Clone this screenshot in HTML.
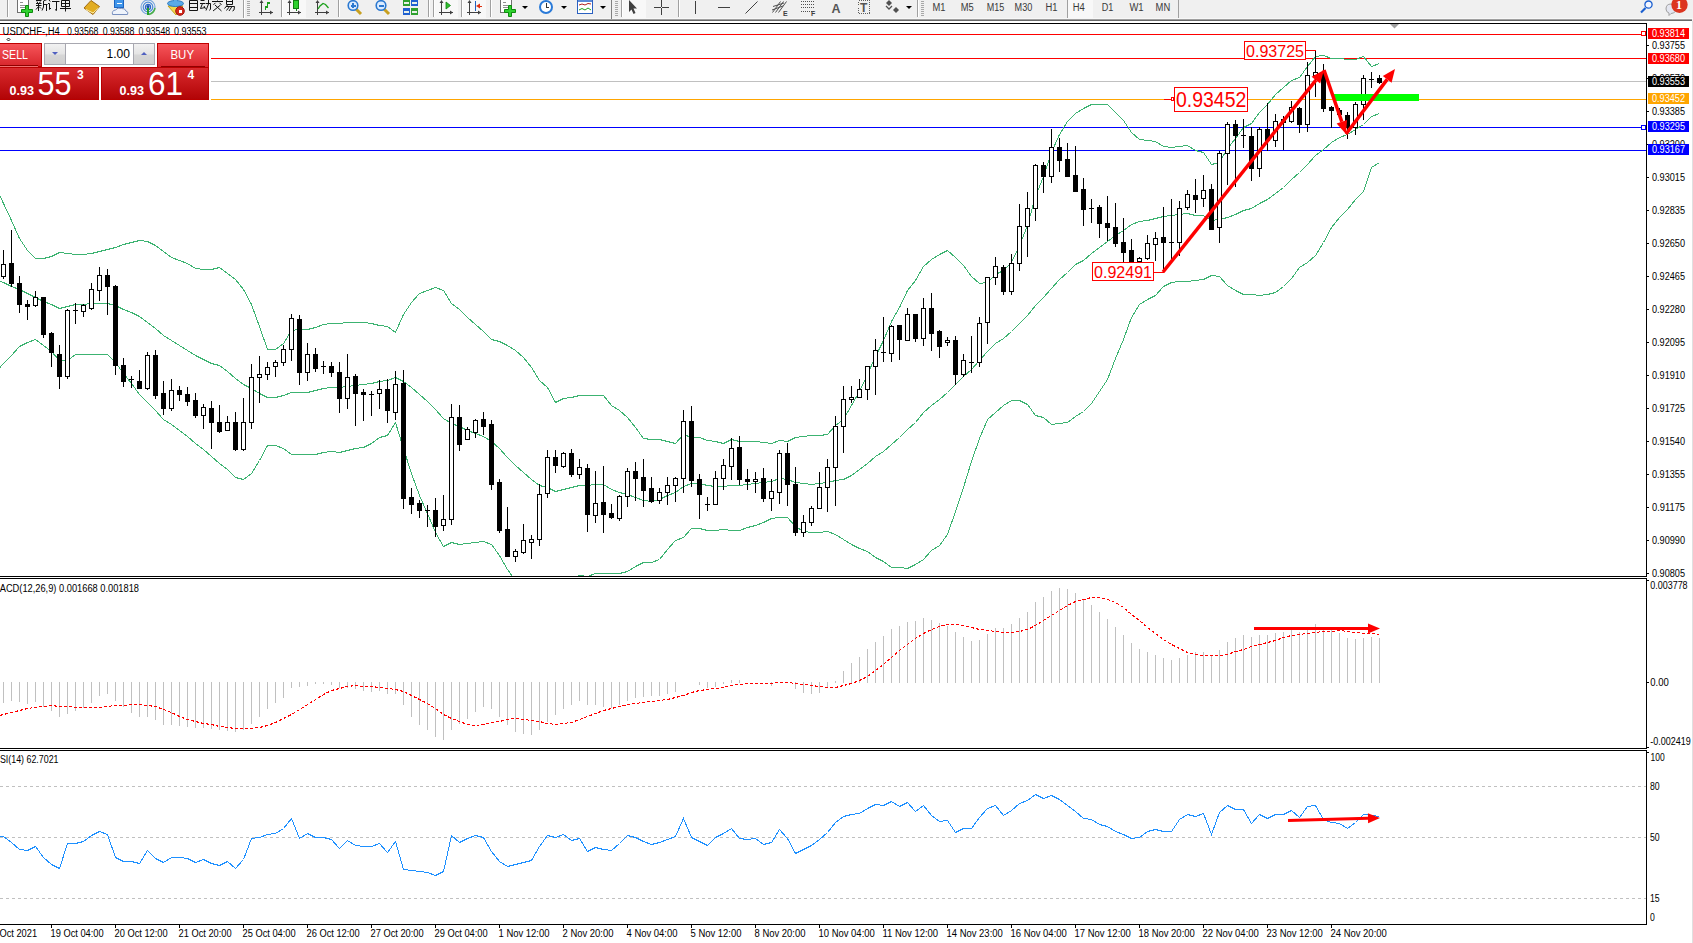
<!DOCTYPE html>
<html><head><meta charset="utf-8"><title>MT4</title><style>
html,body{margin:0;padding:0;}
body{width:1693px;height:943px;overflow:hidden;background:#fff;position:relative;font-family:"Liberation Sans",sans-serif;}
</style></head><body>
<svg width="1693" height="943" style="position:absolute;left:0;top:0" shape-rendering="crispEdges">
<rect x="0" y="0" width="1693" height="943" fill="#fff"/>
<rect x="0" y="0" width="1693" height="18" fill="#f0f0f0"/>
<rect x="0" y="18" width="1693" height="1" fill="#f8f8f8"/>
<rect x="0" y="19" width="1692" height="1" fill="#a0a0a0"/>
<rect x="0" y="20" width="1692" height="1" fill="#696969"/>
<rect x="7" y="0" width="1" height="17" fill="#a0a0a0"/><rect x="8" y="0" width="1" height="17" fill="#ffffff"/>
<rect x="17.5" y="-0.5" width="11" height="13" fill="#fff" stroke="#707070" stroke-width="1"/>
<rect x="20" y="2" width="3" height="1" fill="#909090"/><rect x="20" y="5" width="5" height="1" fill="#909090"/><rect x="20" y="7" width="5" height="1" fill="#909090"/>
<path d="M25.5,5.5 h3 v4 h4 v3 h-4 v4 h-3 v-4 h-4 v-3 h4 z" fill="#2fd12f" stroke="#0e8a0e" stroke-width="1" shape-rendering="auto"/>
<path d="M38.5,-1.0 L38.5,0.5" fill="none" stroke="#141414" stroke-width="1" shape-rendering="auto"/>
<path d="M36.0,0.5 L41.5,0.5" fill="none" stroke="#141414" stroke-width="1" shape-rendering="auto"/>
<path d="M37.0,1.5 L37.7,3.0" fill="none" stroke="#141414" stroke-width="1" shape-rendering="auto"/>
<path d="M40.3,1.5 L39.6,3.0" fill="none" stroke="#141414" stroke-width="1" shape-rendering="auto"/>
<path d="M36.0,3.5 L41.5,3.5" fill="none" stroke="#141414" stroke-width="1" shape-rendering="auto"/>
<path d="M36.0,5.5 L41.5,5.5" fill="none" stroke="#141414" stroke-width="1" shape-rendering="auto"/>
<path d="M38.5,3.5 L38.5,11.0" fill="none" stroke="#141414" stroke-width="1" shape-rendering="auto"/>
<path d="M38.5,6.5 L36.0,9.5" fill="none" stroke="#141414" stroke-width="1" shape-rendering="auto"/>
<path d="M39.0,6.5 L41.0,8.5" fill="none" stroke="#141414" stroke-width="1" shape-rendering="auto"/>
<path d="M47.0,-0.5 L43.5,1.0" fill="none" stroke="#141414" stroke-width="1" shape-rendering="auto"/>
<path d="M43.5,1.0 L43.5,7.0 L42.0,10.5" fill="none" stroke="#141414" stroke-width="1" shape-rendering="auto"/>
<path d="M43.5,4.5 L47.5,4.5" fill="none" stroke="#141414" stroke-width="1" shape-rendering="auto"/>
<path d="M46.5,4.5 L46.5,11.0" fill="none" stroke="#141414" stroke-width="1" shape-rendering="auto"/>
<path d="M49.0,0.0 L50.2,1.5" fill="none" stroke="#141414" stroke-width="1" shape-rendering="auto"/>
<path d="M48.0,3.5 L49.5,3.5 L49.5,9.5 L51.0,8.0" fill="none" stroke="#141414" stroke-width="1" shape-rendering="auto"/>
<path d="M52.0,1.5 L59.5,1.5" fill="none" stroke="#141414" stroke-width="1" shape-rendering="auto"/>
<path d="M56.5,1.5 L56.5,10.5 L55.0,9.5" fill="none" stroke="#141414" stroke-width="1" shape-rendering="auto"/>
<path d="M62.5,-1.5 L63.5,0.0" fill="none" stroke="#141414" stroke-width="1" shape-rendering="auto"/>
<path d="M68.5,-1.5 L67.5,0.0" fill="none" stroke="#141414" stroke-width="1" shape-rendering="auto"/>
<path d="M61.5,0.5 L69.5,0.5 L69.5,6.5 L61.5,6.5 L61.5,0.5" fill="none" stroke="#141414" stroke-width="1" shape-rendering="auto"/>
<path d="M61.5,3.5 L69.5,3.5" fill="none" stroke="#141414" stroke-width="1" shape-rendering="auto"/>
<path d="M65.5,0.5 L65.5,11.5" fill="none" stroke="#141414" stroke-width="1" shape-rendering="auto"/>
<path d="M60.0,8.5 L71.0,8.5" fill="none" stroke="#141414" stroke-width="1" shape-rendering="auto"/>
<polygon points="84,8 91,0.5 99.5,6.5 93,14.5" fill="#e2ad22" stroke="#a06a10" stroke-width="1" shape-rendering="auto"/>
<polyline points="86,9.5 93,13 98.5,8" fill="none" stroke="#fff3b0" stroke-width="1" shape-rendering="auto"/>
<rect x="114.5" y="-0.5" width="9" height="8" fill="#3f95ea" stroke="#1c64c0" shape-rendering="auto"/>
<rect x="117" y="3" width="5" height="1" fill="#fff"/>
<path d="M112.5,14.5 Q111.5,10.5 115.5,10 Q117.5,7 121.5,8.5 Q125,8 126,11 Q129,12 127.5,14.5 Z" fill="#eef3fb" stroke="#7890c0" stroke-width="1" shape-rendering="auto"/>
<circle cx="148" cy="7" r="7" fill="none" stroke="#7aa8e0" stroke-width="1.2" shape-rendering="auto"/>
<circle cx="148" cy="7" r="4.8" fill="none" stroke="#4a88d8" stroke-width="1.2" shape-rendering="auto"/>
<circle cx="148" cy="7" r="2.6" fill="none" stroke="#2a68c8" stroke-width="1.2" shape-rendering="auto"/>
<rect x="147" y="7" width="2" height="8" fill="#2aa02a"/><path d="M149,14.5 Q154,13 155,8" fill="none" stroke="#4ab04a" stroke-width="1.5" shape-rendering="auto"/>
<circle cx="148" cy="6.5" r="1.5" fill="#1a50b0" shape-rendering="auto"/>
<polygon points="168,6 183,6 176,15" fill="#f2d84a" stroke="#c0a020" shape-rendering="auto"/>
<ellipse cx="175.5" cy="3.5" rx="8" ry="3" fill="#5aaae6" stroke="#2a78c0" shape-rendering="auto"/><polygon points="173,3 178,3 176,-2" fill="#5aaae6"/>
<circle cx="180" cy="11" r="4.3" fill="#d42a1a" stroke="#a01010" shape-rendering="auto"/><rect x="178.5" y="9.5" width="3" height="3" fill="#fff"/>
<path d="M193.5,-1.5 L192.5,0.5" fill="none" stroke="#141414" stroke-width="1" shape-rendering="auto"/>
<path d="M189.5,0.5 L197.5,0.5 L197.5,10.5 L189.5,10.5 L189.5,0.5" fill="none" stroke="#141414" stroke-width="1" shape-rendering="auto"/>
<path d="M189.5,3.5 L197.5,3.5" fill="none" stroke="#141414" stroke-width="1" shape-rendering="auto"/>
<path d="M189.5,7.5 L197.5,7.5" fill="none" stroke="#141414" stroke-width="1" shape-rendering="auto"/>
<path d="M200.5,0.5 L204.5,0.5" fill="none" stroke="#141414" stroke-width="1" shape-rendering="auto"/>
<path d="M200.0,3.5 L205.5,3.5" fill="none" stroke="#141414" stroke-width="1" shape-rendering="auto"/>
<path d="M202.5,3.5 L200.5,8.5 L205.0,7.5" fill="none" stroke="#141414" stroke-width="1" shape-rendering="auto"/>
<path d="M204.0,6.0 L205.5,8.8" fill="none" stroke="#141414" stroke-width="1" shape-rendering="auto"/>
<path d="M206.0,3.5 L210.5,3.5 L210.5,9.0 L209.5,10.5" fill="none" stroke="#141414" stroke-width="1" shape-rendering="auto"/>
<path d="M208.5,-1.0 L208.5,4.0 L206.0,10.5" fill="none" stroke="#141414" stroke-width="1" shape-rendering="auto"/>
<path d="M217.5,-1.0 L217.5,0.5" fill="none" stroke="#141414" stroke-width="1" shape-rendering="auto"/>
<path d="M212.0,1.5 L223.0,1.5" fill="none" stroke="#141414" stroke-width="1" shape-rendering="auto"/>
<path d="M215.5,2.8 L213.5,4.8" fill="none" stroke="#141414" stroke-width="1" shape-rendering="auto"/>
<path d="M219.5,2.8 L221.5,4.8" fill="none" stroke="#141414" stroke-width="1" shape-rendering="auto"/>
<path d="M215.0,5.0 L221.5,11.0" fill="none" stroke="#141414" stroke-width="1" shape-rendering="auto"/>
<path d="M220.5,5.0 L213.0,11.0" fill="none" stroke="#141414" stroke-width="1" shape-rendering="auto"/>
<path d="M226.5,-0.5 L232.5,-0.5 L232.5,4.5 L226.5,4.5 L226.5,-0.5" fill="none" stroke="#141414" stroke-width="1" shape-rendering="auto"/>
<path d="M226.5,1.5 L232.5,1.5" fill="none" stroke="#141414" stroke-width="1" shape-rendering="auto"/>
<path d="M227.5,5.0 L224.5,8.5" fill="none" stroke="#141414" stroke-width="1" shape-rendering="auto"/>
<path d="M226.0,6.5 L234.5,6.5 L234.0,10.0 L232.5,11.0" fill="none" stroke="#141414" stroke-width="1" shape-rendering="auto"/>
<path d="M229.5,6.5 L226.5,10.5" fill="none" stroke="#141414" stroke-width="1" shape-rendering="auto"/>
<path d="M232.0,6.5 L229.0,11.0" fill="none" stroke="#141414" stroke-width="1" shape-rendering="auto"/>
<rect x="243" y="0" width="1" height="18" fill="#a0a0a0"/><rect x="244" y="0" width="1" height="18" fill="#ffffff"/>
<rect x="247" y="1" width="3" height="1" fill="#a8a8a8"/>
<rect x="247" y="3" width="3" height="1" fill="#a8a8a8"/>
<rect x="247" y="5" width="3" height="1" fill="#a8a8a8"/>
<rect x="247" y="7" width="3" height="1" fill="#a8a8a8"/>
<rect x="247" y="9" width="3" height="1" fill="#a8a8a8"/>
<rect x="247" y="11" width="3" height="1" fill="#a8a8a8"/>
<rect x="247" y="13" width="3" height="1" fill="#a8a8a8"/>
<rect x="247" y="15" width="3" height="1" fill="#a8a8a8"/>
<rect x="261" y="1" width="1" height="14" fill="#404040"/>
<rect x="259" y="12" width="14" height="1" fill="#404040"/>
<polygon points="261.5,0 259.5,3 263.5,3" fill="#404040" shape-rendering="auto"/>
<polygon points="273,12.5 270,10.5 270,14.5" fill="#404040" shape-rendering="auto"/>
<polyline points="265.5,10 265.5,7 267.5,7 267.5,3 270,3" fill="none" stroke="#1aa01a" stroke-width="1.5"/>
<rect x="281" y="0" width="1" height="17" fill="#a0a0a0"/><rect x="282" y="0" width="1" height="17" fill="#ffffff"/>
<rect x="283" y="0" width="23" height="18" fill="#f8f8f8"/>
<rect x="289" y="1" width="1" height="14" fill="#404040"/>
<rect x="287" y="12" width="14" height="1" fill="#404040"/>
<polygon points="289.5,0 287.5,3 291.5,3" fill="#404040" shape-rendering="auto"/>
<polygon points="301,12.5 298,10.5 298,14.5" fill="#404040" shape-rendering="auto"/>
<rect x="295.5" y="-1" width="1" height="12" fill="#1a7a1a"/><rect x="293.5" y="0.5" width="5" height="8" fill="#2ed02e" stroke="#108010"/>
<rect x="317" y="1" width="1" height="14" fill="#404040"/>
<rect x="315" y="12" width="14" height="1" fill="#404040"/>
<polygon points="317.5,0 315.5,3 319.5,3" fill="#404040" shape-rendering="auto"/>
<polygon points="329,12.5 326,10.5 326,14.5" fill="#404040" shape-rendering="auto"/>
<polyline points="318,9 320,6 323,3.5 325.5,4.5 328.5,8" fill="none" stroke="#1aa01a" stroke-width="1.3" shape-rendering="auto"/>
<rect x="338" y="0" width="1" height="17" fill="#a0a0a0"/><rect x="339" y="0" width="1" height="17" fill="#ffffff"/>
<line x1="356" y1="9" x2="361" y2="14" stroke="#c8a020" stroke-width="3" shape-rendering="auto"/>
<circle cx="353" cy="5.5" r="4.8" fill="#dcecff" stroke="#2a78d0" stroke-width="1.6" shape-rendering="auto"/>
<rect x="350.5" y="4.5" width="5" height="2" fill="#2a78d0"/>
<rect x="352" y="3" width="2" height="5" fill="#2a78d0"/>
<line x1="384" y1="9" x2="389" y2="14" stroke="#c8a020" stroke-width="3" shape-rendering="auto"/>
<circle cx="381" cy="5.5" r="4.8" fill="#dcecff" stroke="#2a78d0" stroke-width="1.6" shape-rendering="auto"/>
<rect x="378.5" y="4.5" width="5" height="2" fill="#2a78d0"/>
<rect x="403" y="-1" width="7" height="7" fill="#2ea02e"/><rect x="404" y="2" width="5" height="2" fill="#e8f0e8"/>
<rect x="411" y="-1" width="7" height="7" fill="#2060d0"/><rect x="412" y="2" width="5" height="2" fill="#e8f0e8"/>
<rect x="403" y="8" width="7" height="7" fill="#2060d0"/><rect x="404" y="11" width="5" height="2" fill="#e8f0e8"/>
<rect x="411" y="8" width="7" height="7" fill="#2ea02e"/><rect x="412" y="11" width="5" height="2" fill="#e8f0e8"/>
<rect x="428" y="0" width="1" height="17" fill="#a0a0a0"/><rect x="429" y="0" width="1" height="17" fill="#ffffff"/>
<rect x="433" y="0" width="1" height="17" fill="#a0a0a0"/><rect x="434" y="0" width="1" height="17" fill="#ffffff"/>
<rect x="435" y="0" width="23" height="18" fill="#f8f8f8"/>
<rect x="441" y="1" width="1" height="14" fill="#404040"/>
<rect x="439" y="12" width="14" height="1" fill="#404040"/>
<polygon points="441.5,0 439.5,3 443.5,3" fill="#404040" shape-rendering="auto"/>
<polygon points="453,12.5 450,10.5 450,14.5" fill="#404040" shape-rendering="auto"/>
<polygon points="446,2 446,9 450.5,5.5" fill="#2ec02e" stroke="#108010" stroke-width="0.8" shape-rendering="auto"/>
<rect x="461" y="0" width="1" height="17" fill="#a0a0a0"/><rect x="462" y="0" width="1" height="17" fill="#ffffff"/>
<rect x="463" y="0" width="23" height="18" fill="#f8f8f8"/>
<rect x="469" y="1" width="1" height="14" fill="#404040"/>
<rect x="467" y="12" width="14" height="1" fill="#404040"/>
<polygon points="469.5,0 467.5,3 471.5,3" fill="#404040" shape-rendering="auto"/>
<polygon points="481,12.5 478,10.5 478,14.5" fill="#404040" shape-rendering="auto"/>
<rect x="475" y="1" width="1" height="10" fill="#2060c0"/><polygon points="476,6 480,3.5 480,8.5" fill="#e03010" shape-rendering="auto"/><rect x="478" y="5.5" width="4" height="1" fill="#e03010"/>
<rect x="490" y="0" width="1" height="17" fill="#a0a0a0"/><rect x="491" y="0" width="1" height="17" fill="#ffffff"/>
<rect x="500.5" y="-0.5" width="11" height="13" fill="#fff" stroke="#707070" stroke-width="1"/>
<rect x="503" y="2" width="3" height="1" fill="#909090"/><rect x="503" y="5" width="5" height="1" fill="#909090"/><rect x="503" y="7" width="5" height="1" fill="#909090"/>
<path d="M508.5,5.5 h3 v4 h4 v3 h-4 v4 h-3 v-4 h-4 v-3 h4 z" fill="#2fd12f" stroke="#0e8a0e" stroke-width="1" shape-rendering="auto"/>
<polygon points="522,6 528,6 525,9" fill="#000" shape-rendering="auto"/>
<circle cx="546" cy="7" r="7" fill="#2a7ad8" shape-rendering="auto"/><circle cx="546" cy="7" r="5" fill="#fff" shape-rendering="auto"/><rect x="545.5" y="3" width="1" height="4" fill="#333"/><rect x="545.5" y="6.5" width="3" height="1" fill="#333"/>
<polygon points="561,6 567,6 564,9" fill="#000" shape-rendering="auto"/>
<rect x="577.5" y="-0.5" width="15" height="14" fill="#fff" stroke="#2a60c0" shape-rendering="auto"/><rect x="578" y="0" width="14" height="2" fill="#5a8ad8"/>
<polyline points="579,5 582,4 585,5 588,3.5 591,4" fill="none" stroke="#b02020" stroke-width="1" shape-rendering="auto"/><polyline points="579,10 582,8.5 585,10 588,8 591,10" fill="none" stroke="#20a020" stroke-width="1" shape-rendering="auto"/>
<polygon points="600,6 606,6 603,9" fill="#000" shape-rendering="auto"/>
<rect x="611" y="0" width="1" height="19" fill="#808080"/>
<rect x="615" y="1" width="3" height="1" fill="#a8a8a8"/>
<rect x="615" y="3" width="3" height="1" fill="#a8a8a8"/>
<rect x="615" y="5" width="3" height="1" fill="#a8a8a8"/>
<rect x="615" y="7" width="3" height="1" fill="#a8a8a8"/>
<rect x="615" y="9" width="3" height="1" fill="#a8a8a8"/>
<rect x="615" y="11" width="3" height="1" fill="#a8a8a8"/>
<rect x="615" y="13" width="3" height="1" fill="#a8a8a8"/>
<rect x="615" y="15" width="3" height="1" fill="#a8a8a8"/>
<rect x="621" y="0" width="1" height="17" fill="#a0a0a0"/><rect x="622" y="0" width="1" height="17" fill="#ffffff"/>
<rect x="623" y="0" width="23" height="18" fill="#f8f8f8"/>
<polygon points="629,0 629,12 631.5,9.5 633.5,14 635.5,13 633.5,8.5 637,8.5" fill="#404040" shape-rendering="auto"/>
<rect x="654" y="7" width="15" height="1" fill="#404040"/><rect x="661" y="0" width="1" height="15" fill="#404040"/><rect x="661" y="7" width="1" height="1" fill="#f0f0f0"/>
<rect x="678" y="0" width="1" height="17" fill="#a0a0a0"/><rect x="679" y="0" width="1" height="17" fill="#ffffff"/>
<rect x="695" y="1" width="1" height="13" fill="#404040"/>
<rect x="718" y="7" width="12" height="1" fill="#404040"/>
<line x1="745.5" y1="13.5" x2="757.5" y2="1.5" stroke="#404040" stroke-width="1" shape-rendering="auto"/>
<line x1="772.5" y1="12.5" x2="780.5" y2="1.5" stroke="#505050" stroke-width="1" shape-rendering="auto"/>
<line x1="775.5" y1="12.5" x2="783.5" y2="1.5" stroke="#505050" stroke-width="1" shape-rendering="auto"/>
<line x1="778.5" y1="12.5" x2="786.5" y2="1.5" stroke="#505050" stroke-width="1" shape-rendering="auto"/>
<line x1="772" y1="10" x2="783" y2="6" stroke="#505050" shape-rendering="auto"/><line x1="773" y1="6.5" x2="784" y2="3" stroke="#505050" shape-rendering="auto"/>
<text x="783" y="16" font-family="Liberation Sans" font-size="7" font-weight="bold" fill="#404040">E</text>
<line x1="801" y1="1.5" x2="814" y2="1.5" stroke="#505050" stroke-dasharray="1,1"/>
<line x1="801" y1="4.5" x2="814" y2="4.5" stroke="#505050" stroke-dasharray="1,1"/>
<line x1="801" y1="7.5" x2="814" y2="7.5" stroke="#505050" stroke-dasharray="1,1"/>
<line x1="801" y1="11.5" x2="814" y2="11.5" stroke="#505050" stroke-dasharray="1,1"/>
<text x="811" y="16" font-family="Liberation Sans" font-size="7" font-weight="bold" fill="#404040">F</text>
<text x="831.5" y="12.5" font-family="Liberation Sans" font-size="12.5" font-weight="bold" fill="#555">A</text>
<rect x="858.5" y="0.5" width="11" height="13" fill="none" stroke="#606060" stroke-dasharray="1,1"/>
<text x="860" y="12" font-family="Liberation Sans" font-size="12" font-weight="bold" fill="#555">T</text>
<polygon points="886,3 889,0 892,3 889,6" fill="#505050" shape-rendering="auto"/><polygon points="893,10 896,7 899,10 896,13" fill="#505050" shape-rendering="auto"/><polyline points="886,6 889,9 892,6" fill="none" stroke="#505050" stroke-width="1.3" shape-rendering="auto"/>
<polygon points="906,6 912,6 909,9" fill="#000" shape-rendering="auto"/>
<rect x="917" y="0" width="1" height="17" fill="#a0a0a0"/><rect x="918" y="0" width="1" height="17" fill="#ffffff"/>
<rect x="921" y="1" width="3" height="1" fill="#a8a8a8"/>
<rect x="921" y="3" width="3" height="1" fill="#a8a8a8"/>
<rect x="921" y="5" width="3" height="1" fill="#a8a8a8"/>
<rect x="921" y="7" width="3" height="1" fill="#a8a8a8"/>
<rect x="921" y="9" width="3" height="1" fill="#a8a8a8"/>
<rect x="921" y="11" width="3" height="1" fill="#a8a8a8"/>
<rect x="921" y="13" width="3" height="1" fill="#a8a8a8"/>
<rect x="921" y="15" width="3" height="1" fill="#a8a8a8"/>
<rect x="1068" y="0" width="25" height="18" fill="#f8f8f8"/>
<rect x="1067" y="0" width="1" height="18" fill="#a0a0a0"/>
<text x="932.4" y="11.3" font-family="Liberation Sans" font-size="10" fill="#3a3a3a" textLength="13" lengthAdjust="spacingAndGlyphs">M1</text>
<text x="960.7" y="11.3" font-family="Liberation Sans" font-size="10" fill="#3a3a3a" textLength="13" lengthAdjust="spacingAndGlyphs">M5</text>
<text x="986.7" y="11.3" font-family="Liberation Sans" font-size="10" fill="#3a3a3a" textLength="17.5" lengthAdjust="spacingAndGlyphs">M15</text>
<text x="1014.6" y="11.3" font-family="Liberation Sans" font-size="10" fill="#3a3a3a" textLength="17.7" lengthAdjust="spacingAndGlyphs">M30</text>
<text x="1045.5" y="11.3" font-family="Liberation Sans" font-size="10" fill="#3a3a3a" textLength="12" lengthAdjust="spacingAndGlyphs">H1</text>
<text x="1072.7" y="11.3" font-family="Liberation Sans" font-size="10" fill="#3a3a3a" textLength="12.1" lengthAdjust="spacingAndGlyphs">H4</text>
<text x="1101.8" y="11.3" font-family="Liberation Sans" font-size="10" fill="#3a3a3a" textLength="11.6" lengthAdjust="spacingAndGlyphs">D1</text>
<text x="1129.4" y="11.3" font-family="Liberation Sans" font-size="10" fill="#3a3a3a" textLength="14.2" lengthAdjust="spacingAndGlyphs">W1</text>
<text x="1155.6" y="11.3" font-family="Liberation Sans" font-size="10" fill="#3a3a3a" textLength="14.6" lengthAdjust="spacingAndGlyphs">MN</text>
<rect x="1178" y="0" width="1" height="18" fill="#a0a0a0"/>
<line x1="1641" y1="12.5" x2="1645.5" y2="8" stroke="#1a5fd0" stroke-width="2.2" shape-rendering="auto"/><circle cx="1648.5" cy="4.6" r="3.6" fill="#f4f6ff" stroke="#1a5fd0" stroke-width="1.3" shape-rendering="auto"/>
<path d="M1666,9 Q1666,4 1671,4 Q1676,4 1676,9 Q1676,13 1671,13.5 L1669,15.5 L1669,13 Q1666,12 1666,9 Z" fill="#e4e6f0" stroke="#a0a0a0" stroke-width="1" shape-rendering="auto"/>
<circle cx="1679.5" cy="4.8" r="8.2" fill="#dc3520" shape-rendering="auto"/>
<text x="1676" y="9" font-family="Liberation Serif" font-size="12" font-weight="bold" fill="#fff">1</text>
<defs><clipPath id="cm"><rect x="0" y="24" width="1646" height="552"/></clipPath><clipPath id="cd"><rect x="0" y="579" width="1646" height="169"/></clipPath><clipPath id="cr"><rect x="0" y="751" width="1646" height="173"/></clipPath></defs>
<rect x="1692" y="21" width="1" height="922" fill="#e0e0e0"/>
<rect x="1692" y="19" width="1" height="2" fill="#f0f0f0"/>
<rect x="0" y="34" width="1646" height="1" fill="#ff0000"/>
<rect x="0" y="58" width="1646" height="1" fill="#ff0000"/>
<rect x="0" y="81" width="1646" height="1" fill="#c0c0c0"/>
<rect x="0" y="99" width="1646" height="1" fill="#ffa500"/>
<rect x="0" y="127" width="1646" height="1" fill="#0000ff"/>
<rect x="0" y="150" width="1646" height="1" fill="#0000ff"/>
<rect x="1641.5" y="31.5" width="4" height="4" fill="#fff" stroke="#ff0000" stroke-width="1"/>
<rect x="1641.5" y="125.5" width="4" height="4" fill="#fff" stroke="#0000ff" stroke-width="1"/>
<g clip-path="url(#cm)">
<polyline points="-4.5,185.5 3.5,203.5 11.5,220.5 19.5,238.5 27.5,250.5 35.5,258.5 43.5,258.5 51.5,256.5 59.5,252.5 67.5,253.5 75.5,254.5 83.5,254.5 91.5,253.5 99.5,251.5 107.5,249.5 115.5,247.5 123.5,244.5 131.5,242.5 139.5,240.5 147.5,241.5 155.5,245.5 163.5,251.5 171.5,257.5 179.5,260.5 187.5,263.5 195.5,268.5 203.5,269.5 211.5,269.5 219.5,267.5 227.5,273.5 235.5,279.5 243.5,289.5 251.5,304.5 259.5,326.5 267.5,349.5 275.5,349.5 283.5,343.5 291.5,330.5 299.5,329.5 307.5,329.5 315.5,327.5 323.5,324.5 331.5,323.5 339.5,323.5 347.5,322.5 355.5,322.5 363.5,322.5 371.5,323.5 379.5,325.5 387.5,326.5 395.5,332.5 403.5,314.5 411.5,302.5 419.5,293.5 427.5,290.5 435.5,287.5 443.5,290.5 451.5,303.5 459.5,309.5 467.5,317.5 475.5,324.5 483.5,331.5 491.5,339.5 499.5,341.5 507.5,345.5 515.5,350.5 523.5,357.5 531.5,367.5 539.5,380.5 547.5,387.5 555.5,402.5 563.5,398.5 571.5,397.5 579.5,395.5 587.5,395.5 595.5,395.5 603.5,395.5 611.5,405.5 619.5,410.5 627.5,417.5 635.5,427.5 643.5,438.5 651.5,439.5 659.5,439.5 667.5,441.5 675.5,443.5 683.5,434.5 691.5,437.5 699.5,437.5 707.5,440.5 715.5,441.5 723.5,443.5 731.5,439.5 739.5,441.5 747.5,441.5 755.5,441.5 763.5,442.5 771.5,443.5 779.5,440.5 787.5,441.5 795.5,437.5 803.5,436.5 811.5,435.5 819.5,435.5 827.5,434.5 835.5,425.5 843.5,419.5 851.5,405.5 859.5,391.5 867.5,374.5 875.5,356.5 883.5,340.5 891.5,321.5 899.5,307.5 907.5,290.5 915.5,280.5 923.5,266.5 931.5,259.5 939.5,254.5 947.5,250.5 955.5,257.5 963.5,265.5 971.5,276.5 979.5,283.5 987.5,282.5 995.5,274.5 1003.5,270.5 1011.5,262.5 1019.5,245.5 1027.5,225.5 1035.5,196.5 1043.5,176.5 1051.5,152.5 1059.5,134.5 1067.5,121.5 1075.5,113.5 1083.5,108.5 1091.5,104.5 1099.5,104.5 1107.5,104.5 1115.5,112.5 1123.5,120.5 1131.5,132.5 1139.5,139.5 1147.5,140.5 1155.5,141.5 1163.5,146.5 1171.5,147.5 1179.5,146.5 1187.5,145.5 1195.5,150.5 1203.5,152.5 1211.5,164.5 1219.5,162.5 1227.5,148.5 1235.5,138.5 1243.5,127.5 1251.5,123.5 1259.5,112.5 1267.5,104.5 1275.5,94.5 1283.5,87.5 1291.5,80.5 1299.5,77.5 1307.5,66.5 1315.5,56.5 1323.5,55.5 1331.5,58.5 1339.5,58.5 1347.5,59.5 1355.5,59.5 1363.5,56.5 1371.5,66.5 1379.5,63.5" fill="none" stroke="#3cb371" stroke-width="1"/>
<polyline points="-4.5,279.5 3.5,282.5 11.5,286.5 19.5,289.5 27.5,293.5 35.5,297.5 43.5,301.5 51.5,304.5 59.5,308.5 67.5,306.5 75.5,304.5 83.5,304.5 91.5,303.5 99.5,303.5 107.5,303.5 115.5,305.5 123.5,309.5 131.5,312.5 139.5,316.5 147.5,322.5 155.5,328.5 163.5,335.5 171.5,340.5 179.5,345.5 187.5,350.5 195.5,355.5 203.5,359.5 211.5,363.5 219.5,365.5 227.5,371.5 235.5,378.5 243.5,384.5 251.5,388.5 259.5,393.5 267.5,397.5 275.5,397.5 283.5,395.5 291.5,392.5 299.5,392.5 307.5,392.5 315.5,390.5 323.5,388.5 331.5,387.5 339.5,387.5 347.5,386.5 355.5,385.5 363.5,384.5 371.5,383.5 379.5,381.5 387.5,380.5 395.5,377.5 403.5,381.5 411.5,387.5 419.5,394.5 427.5,401.5 435.5,409.5 443.5,418.5 451.5,423.5 459.5,426.5 467.5,430.5 475.5,433.5 483.5,436.5 491.5,441.5 499.5,448.5 507.5,457.5 515.5,465.5 523.5,472.5 531.5,479.5 539.5,485.5 547.5,487.5 555.5,491.5 563.5,489.5 571.5,487.5 579.5,485.5 587.5,485.5 595.5,484.5 603.5,484.5 611.5,489.5 619.5,492.5 627.5,494.5 635.5,497.5 643.5,500.5 651.5,501.5 659.5,499.5 667.5,495.5 675.5,492.5 683.5,486.5 691.5,483.5 699.5,483.5 707.5,485.5 715.5,486.5 723.5,486.5 731.5,485.5 739.5,485.5 747.5,484.5 755.5,483.5 763.5,482.5 771.5,481.5 779.5,478.5 787.5,479.5 795.5,482.5 803.5,483.5 811.5,484.5 819.5,483.5 827.5,482.5 835.5,480.5 843.5,479.5 851.5,475.5 859.5,469.5 867.5,463.5 875.5,456.5 883.5,451.5 891.5,444.5 899.5,437.5 907.5,429.5 915.5,422.5 923.5,412.5 931.5,405.5 939.5,399.5 947.5,392.5 955.5,384.5 963.5,376.5 971.5,369.5 979.5,360.5 987.5,351.5 995.5,343.5 1003.5,338.5 1011.5,331.5 1019.5,323.5 1027.5,315.5 1035.5,305.5 1043.5,297.5 1051.5,288.5 1059.5,279.5 1067.5,272.5 1075.5,264.5 1083.5,260.5 1091.5,253.5 1099.5,247.5 1107.5,241.5 1115.5,235.5 1123.5,230.5 1131.5,224.5 1139.5,221.5 1147.5,220.5 1155.5,218.5 1163.5,216.5 1171.5,215.5 1179.5,214.5 1187.5,213.5 1195.5,215.5 1203.5,215.5 1211.5,220.5 1219.5,219.5 1227.5,217.5 1235.5,214.5 1243.5,210.5 1251.5,208.5 1259.5,203.5 1267.5,199.5 1275.5,193.5 1283.5,187.5 1291.5,179.5 1299.5,172.5 1307.5,164.5 1315.5,155.5 1323.5,149.5 1331.5,142.5 1339.5,137.5 1347.5,134.5 1355.5,129.5 1363.5,124.5 1371.5,116.5 1379.5,113.5" fill="none" stroke="#3cb371" stroke-width="1"/>
<polyline points="-4.5,372.5 3.5,363.5 11.5,355.5 19.5,346.5 27.5,342.5 35.5,339.5 43.5,345.5 51.5,351.5 59.5,360.5 67.5,360.5 75.5,354.5 83.5,354.5 91.5,354.5 99.5,354.5 107.5,354.5 115.5,362.5 123.5,373.5 131.5,383.5 139.5,394.5 147.5,402.5 155.5,410.5 163.5,419.5 171.5,424.5 179.5,430.5 187.5,436.5 195.5,443.5 203.5,449.5 211.5,456.5 219.5,463.5 227.5,469.5 235.5,477.5 243.5,479.5 251.5,473.5 259.5,460.5 267.5,445.5 275.5,445.5 283.5,448.5 291.5,454.5 299.5,454.5 307.5,454.5 315.5,454.5 323.5,452.5 331.5,451.5 339.5,452.5 347.5,450.5 355.5,448.5 363.5,447.5 371.5,443.5 379.5,437.5 387.5,435.5 395.5,422.5 403.5,448.5 411.5,473.5 419.5,495.5 427.5,513.5 435.5,532.5 443.5,546.5 451.5,542.5 459.5,544.5 467.5,543.5 475.5,542.5 483.5,541.5 491.5,544.5 499.5,555.5 507.5,569.5 515.5,580.5 523.5,587.5 531.5,592.5 539.5,589.5 547.5,587.5 555.5,580.5 563.5,579.5 571.5,578.5 579.5,575.5 587.5,576.5 595.5,573.5 603.5,573.5 611.5,573.5 619.5,573.5 627.5,571.5 635.5,566.5 643.5,562.5 651.5,562.5 659.5,559.5 667.5,549.5 675.5,540.5 683.5,537.5 691.5,528.5 699.5,528.5 707.5,530.5 715.5,530.5 723.5,529.5 731.5,530.5 739.5,530.5 747.5,527.5 755.5,525.5 763.5,522.5 771.5,518.5 779.5,517.5 787.5,517.5 795.5,526.5 803.5,531.5 811.5,532.5 819.5,532.5 827.5,531.5 835.5,534.5 843.5,539.5 851.5,544.5 859.5,548.5 867.5,551.5 875.5,557.5 883.5,561.5 891.5,567.5 899.5,567.5 907.5,568.5 915.5,564.5 923.5,559.5 931.5,550.5 939.5,545.5 947.5,534.5 955.5,511.5 963.5,487.5 971.5,461.5 979.5,438.5 987.5,419.5 995.5,412.5 1003.5,405.5 1011.5,400.5 1019.5,400.5 1027.5,404.5 1035.5,415.5 1043.5,417.5 1051.5,424.5 1059.5,423.5 1067.5,422.5 1075.5,416.5 1083.5,411.5 1091.5,403.5 1099.5,391.5 1107.5,379.5 1115.5,358.5 1123.5,339.5 1131.5,317.5 1139.5,304.5 1147.5,299.5 1155.5,295.5 1163.5,286.5 1171.5,282.5 1179.5,281.5 1187.5,281.5 1195.5,280.5 1203.5,279.5 1211.5,275.5 1219.5,276.5 1227.5,285.5 1235.5,290.5 1243.5,294.5 1251.5,294.5 1259.5,295.5 1267.5,294.5 1275.5,292.5 1283.5,286.5 1291.5,278.5 1299.5,267.5 1307.5,262.5 1315.5,255.5 1323.5,242.5 1331.5,227.5 1339.5,217.5 1347.5,209.5 1355.5,199.5 1363.5,191.5 1371.5,167.5 1379.5,162.5" fill="none" stroke="#3cb371" stroke-width="1"/>
<rect x="3" y="250" width="1" height="29" fill="#000"/>
<rect x="1" y="264" width="5" height="13" fill="#000"/>
<rect x="2" y="265" width="3" height="11" fill="#fff"/>
<rect x="11" y="230" width="1" height="57" fill="#000"/>
<rect x="9" y="263" width="5" height="21" fill="#000"/>
<rect x="19" y="276" width="1" height="37" fill="#000"/>
<rect x="17" y="283" width="5" height="22" fill="#000"/>
<rect x="27" y="300" width="1" height="20" fill="#000"/>
<rect x="25" y="304" width="5" height="3" fill="#000"/>
<rect x="35" y="291" width="1" height="16" fill="#000"/>
<rect x="33" y="297" width="5" height="9" fill="#000"/>
<rect x="34" y="298" width="3" height="7" fill="#fff"/>
<rect x="43" y="297" width="1" height="41" fill="#000"/>
<rect x="41" y="297" width="5" height="38" fill="#000"/>
<rect x="51" y="332" width="1" height="35" fill="#000"/>
<rect x="49" y="333" width="5" height="20" fill="#000"/>
<rect x="59" y="345" width="1" height="44" fill="#000"/>
<rect x="57" y="354" width="5" height="23" fill="#000"/>
<rect x="67" y="309" width="1" height="70" fill="#000"/>
<rect x="65" y="310" width="5" height="67" fill="#000"/>
<rect x="66" y="311" width="3" height="65" fill="#fff"/>
<rect x="75" y="303" width="1" height="21" fill="#000"/>
<rect x="73" y="310" width="5" height="1" fill="#000"/>
<rect x="83" y="304" width="1" height="13" fill="#000"/>
<rect x="81" y="305" width="5" height="7" fill="#000"/>
<rect x="82" y="306" width="3" height="5" fill="#fff"/>
<rect x="91" y="283" width="1" height="27" fill="#000"/>
<rect x="89" y="289" width="5" height="20" fill="#000"/>
<rect x="90" y="290" width="3" height="18" fill="#fff"/>
<rect x="99" y="267" width="1" height="34" fill="#000"/>
<rect x="97" y="275" width="5" height="16" fill="#000"/>
<rect x="98" y="276" width="3" height="14" fill="#fff"/>
<rect x="107" y="269" width="1" height="46" fill="#000"/>
<rect x="105" y="275" width="5" height="12" fill="#000"/>
<rect x="115" y="285" width="1" height="90" fill="#000"/>
<rect x="113" y="286" width="5" height="80" fill="#000"/>
<rect x="123" y="358" width="1" height="29" fill="#000"/>
<rect x="121" y="365" width="5" height="17" fill="#000"/>
<rect x="131" y="376" width="1" height="12" fill="#000"/>
<rect x="129" y="379" width="5" height="1" fill="#000"/>
<rect x="139" y="370" width="1" height="19" fill="#000"/>
<rect x="137" y="381" width="5" height="8" fill="#000"/>
<rect x="147" y="352" width="1" height="38" fill="#000"/>
<rect x="145" y="355" width="5" height="34" fill="#000"/>
<rect x="146" y="356" width="3" height="32" fill="#fff"/>
<rect x="155" y="350" width="1" height="49" fill="#000"/>
<rect x="153" y="355" width="5" height="41" fill="#000"/>
<rect x="163" y="381" width="1" height="34" fill="#000"/>
<rect x="161" y="393" width="5" height="16" fill="#000"/>
<rect x="171" y="379" width="1" height="32" fill="#000"/>
<rect x="169" y="390" width="5" height="19" fill="#000"/>
<rect x="170" y="391" width="3" height="17" fill="#fff"/>
<rect x="179" y="386" width="1" height="15" fill="#000"/>
<rect x="177" y="390" width="5" height="5" fill="#000"/>
<rect x="187" y="387" width="1" height="19" fill="#000"/>
<rect x="185" y="394" width="5" height="8" fill="#000"/>
<rect x="195" y="393" width="1" height="25" fill="#000"/>
<rect x="193" y="400" width="5" height="16" fill="#000"/>
<rect x="203" y="404" width="1" height="25" fill="#000"/>
<rect x="201" y="407" width="5" height="9" fill="#000"/>
<rect x="202" y="408" width="3" height="7" fill="#fff"/>
<rect x="211" y="401" width="1" height="48" fill="#000"/>
<rect x="209" y="408" width="5" height="15" fill="#000"/>
<rect x="219" y="405" width="1" height="28" fill="#000"/>
<rect x="217" y="422" width="5" height="10" fill="#000"/>
<rect x="227" y="416" width="1" height="15" fill="#000"/>
<rect x="225" y="422" width="5" height="9" fill="#000"/>
<rect x="226" y="423" width="3" height="7" fill="#fff"/>
<rect x="235" y="412" width="1" height="39" fill="#000"/>
<rect x="233" y="422" width="5" height="28" fill="#000"/>
<rect x="243" y="398" width="1" height="53" fill="#000"/>
<rect x="241" y="422" width="5" height="28" fill="#000"/>
<rect x="242" y="423" width="3" height="26" fill="#fff"/>
<rect x="251" y="364" width="1" height="65" fill="#000"/>
<rect x="249" y="377" width="5" height="46" fill="#000"/>
<rect x="250" y="378" width="3" height="44" fill="#fff"/>
<rect x="259" y="356" width="1" height="47" fill="#000"/>
<rect x="257" y="374" width="5" height="4" fill="#000"/>
<rect x="258" y="375" width="3" height="2" fill="#fff"/>
<rect x="267" y="362" width="1" height="18" fill="#000"/>
<rect x="265" y="367" width="5" height="8" fill="#000"/>
<rect x="266" y="368" width="3" height="6" fill="#fff"/>
<rect x="275" y="360" width="1" height="17" fill="#000"/>
<rect x="273" y="362" width="5" height="5" fill="#000"/>
<rect x="274" y="363" width="3" height="3" fill="#fff"/>
<rect x="283" y="345" width="1" height="21" fill="#000"/>
<rect x="281" y="349" width="5" height="14" fill="#000"/>
<rect x="282" y="350" width="3" height="12" fill="#fff"/>
<rect x="291" y="314" width="1" height="47" fill="#000"/>
<rect x="289" y="318" width="5" height="32" fill="#000"/>
<rect x="290" y="319" width="3" height="30" fill="#fff"/>
<rect x="299" y="315" width="1" height="70" fill="#000"/>
<rect x="297" y="319" width="5" height="54" fill="#000"/>
<rect x="307" y="343" width="1" height="38" fill="#000"/>
<rect x="305" y="354" width="5" height="19" fill="#000"/>
<rect x="306" y="355" width="3" height="17" fill="#fff"/>
<rect x="315" y="348" width="1" height="24" fill="#000"/>
<rect x="313" y="354" width="5" height="15" fill="#000"/>
<rect x="323" y="361" width="1" height="13" fill="#000"/>
<rect x="321" y="366" width="5" height="1" fill="#000"/>
<rect x="331" y="362" width="1" height="15" fill="#000"/>
<rect x="329" y="366" width="5" height="7" fill="#000"/>
<rect x="339" y="362" width="1" height="51" fill="#000"/>
<rect x="337" y="372" width="5" height="27" fill="#000"/>
<rect x="347" y="354" width="1" height="55" fill="#000"/>
<rect x="345" y="377" width="5" height="22" fill="#000"/>
<rect x="346" y="378" width="3" height="20" fill="#fff"/>
<rect x="355" y="374" width="1" height="52" fill="#000"/>
<rect x="353" y="376" width="5" height="18" fill="#000"/>
<rect x="363" y="389" width="1" height="32" fill="#000"/>
<rect x="361" y="392" width="5" height="3" fill="#000"/>
<rect x="371" y="391" width="1" height="25" fill="#000"/>
<rect x="369" y="394" width="5" height="1" fill="#000"/>
<rect x="379" y="380" width="1" height="29" fill="#000"/>
<rect x="377" y="389" width="5" height="5" fill="#000"/>
<rect x="378" y="390" width="3" height="3" fill="#fff"/>
<rect x="387" y="379" width="1" height="44" fill="#000"/>
<rect x="385" y="389" width="5" height="22" fill="#000"/>
<rect x="395" y="371" width="1" height="49" fill="#000"/>
<rect x="393" y="384" width="5" height="29" fill="#000"/>
<rect x="394" y="385" width="3" height="27" fill="#fff"/>
<rect x="403" y="370" width="1" height="139" fill="#000"/>
<rect x="401" y="383" width="5" height="116" fill="#000"/>
<rect x="411" y="488" width="1" height="26" fill="#000"/>
<rect x="409" y="497" width="5" height="8" fill="#000"/>
<rect x="419" y="500" width="1" height="18" fill="#000"/>
<rect x="417" y="503" width="5" height="8" fill="#000"/>
<rect x="427" y="505" width="1" height="22" fill="#000"/>
<rect x="425" y="510" width="5" height="1" fill="#000"/>
<rect x="435" y="498" width="1" height="39" fill="#000"/>
<rect x="433" y="510" width="5" height="17" fill="#000"/>
<rect x="443" y="495" width="1" height="36" fill="#000"/>
<rect x="441" y="519" width="5" height="7" fill="#000"/>
<rect x="442" y="520" width="3" height="5" fill="#fff"/>
<rect x="451" y="404" width="1" height="121" fill="#000"/>
<rect x="449" y="417" width="5" height="103" fill="#000"/>
<rect x="450" y="418" width="3" height="101" fill="#fff"/>
<rect x="459" y="405" width="1" height="46" fill="#000"/>
<rect x="457" y="417" width="5" height="28" fill="#000"/>
<rect x="467" y="427" width="1" height="13" fill="#000"/>
<rect x="465" y="429" width="5" height="11" fill="#000"/>
<rect x="466" y="430" width="3" height="9" fill="#fff"/>
<rect x="475" y="419" width="1" height="19" fill="#000"/>
<rect x="473" y="420" width="5" height="13" fill="#000"/>
<rect x="474" y="421" width="3" height="11" fill="#fff"/>
<rect x="483" y="412" width="1" height="23" fill="#000"/>
<rect x="481" y="419" width="5" height="8" fill="#000"/>
<rect x="491" y="420" width="1" height="70" fill="#000"/>
<rect x="489" y="424" width="5" height="61" fill="#000"/>
<rect x="499" y="479" width="1" height="54" fill="#000"/>
<rect x="497" y="482" width="5" height="49" fill="#000"/>
<rect x="507" y="507" width="1" height="50" fill="#000"/>
<rect x="505" y="529" width="5" height="28" fill="#000"/>
<rect x="515" y="549" width="1" height="13" fill="#000"/>
<rect x="513" y="551" width="5" height="6" fill="#000"/>
<rect x="514" y="552" width="3" height="4" fill="#fff"/>
<rect x="523" y="524" width="1" height="30" fill="#000"/>
<rect x="521" y="540" width="5" height="13" fill="#000"/>
<rect x="522" y="541" width="3" height="11" fill="#fff"/>
<rect x="531" y="535" width="1" height="24" fill="#000"/>
<rect x="529" y="539" width="5" height="4" fill="#000"/>
<rect x="530" y="540" width="3" height="2" fill="#fff"/>
<rect x="539" y="484" width="1" height="62" fill="#000"/>
<rect x="537" y="494" width="5" height="46" fill="#000"/>
<rect x="538" y="495" width="3" height="44" fill="#fff"/>
<rect x="547" y="450" width="1" height="48" fill="#000"/>
<rect x="545" y="457" width="5" height="37" fill="#000"/>
<rect x="546" y="458" width="3" height="35" fill="#fff"/>
<rect x="555" y="450" width="1" height="23" fill="#000"/>
<rect x="553" y="457" width="5" height="9" fill="#000"/>
<rect x="563" y="452" width="1" height="16" fill="#000"/>
<rect x="561" y="453" width="5" height="14" fill="#000"/>
<rect x="562" y="454" width="3" height="12" fill="#fff"/>
<rect x="571" y="449" width="1" height="28" fill="#000"/>
<rect x="569" y="453" width="5" height="22" fill="#000"/>
<rect x="579" y="459" width="1" height="20" fill="#000"/>
<rect x="577" y="467" width="5" height="8" fill="#000"/>
<rect x="578" y="468" width="3" height="6" fill="#fff"/>
<rect x="587" y="464" width="1" height="68" fill="#000"/>
<rect x="585" y="468" width="5" height="47" fill="#000"/>
<rect x="595" y="471" width="1" height="52" fill="#000"/>
<rect x="593" y="503" width="5" height="13" fill="#000"/>
<rect x="594" y="504" width="3" height="11" fill="#fff"/>
<rect x="603" y="466" width="1" height="67" fill="#000"/>
<rect x="601" y="502" width="5" height="13" fill="#000"/>
<rect x="611" y="504" width="1" height="15" fill="#000"/>
<rect x="609" y="513" width="5" height="5" fill="#000"/>
<rect x="619" y="495" width="1" height="26" fill="#000"/>
<rect x="617" y="496" width="5" height="23" fill="#000"/>
<rect x="618" y="497" width="3" height="21" fill="#fff"/>
<rect x="627" y="468" width="1" height="39" fill="#000"/>
<rect x="625" y="471" width="5" height="26" fill="#000"/>
<rect x="626" y="472" width="3" height="24" fill="#fff"/>
<rect x="635" y="462" width="1" height="39" fill="#000"/>
<rect x="633" y="471" width="5" height="8" fill="#000"/>
<rect x="643" y="459" width="1" height="48" fill="#000"/>
<rect x="641" y="477" width="5" height="14" fill="#000"/>
<rect x="651" y="477" width="1" height="26" fill="#000"/>
<rect x="649" y="488" width="5" height="14" fill="#000"/>
<rect x="659" y="488" width="1" height="16" fill="#000"/>
<rect x="657" y="492" width="5" height="9" fill="#000"/>
<rect x="658" y="493" width="3" height="7" fill="#fff"/>
<rect x="667" y="477" width="1" height="28" fill="#000"/>
<rect x="665" y="485" width="5" height="8" fill="#000"/>
<rect x="666" y="486" width="3" height="6" fill="#fff"/>
<rect x="675" y="477" width="1" height="25" fill="#000"/>
<rect x="673" y="478" width="5" height="8" fill="#000"/>
<rect x="674" y="479" width="3" height="6" fill="#fff"/>
<rect x="683" y="410" width="1" height="83" fill="#000"/>
<rect x="681" y="421" width="5" height="58" fill="#000"/>
<rect x="682" y="422" width="3" height="56" fill="#fff"/>
<rect x="691" y="406" width="1" height="81" fill="#000"/>
<rect x="689" y="421" width="5" height="60" fill="#000"/>
<rect x="699" y="474" width="1" height="45" fill="#000"/>
<rect x="697" y="479" width="5" height="16" fill="#000"/>
<rect x="707" y="497" width="1" height="14" fill="#000"/>
<rect x="705" y="504" width="5" height="1" fill="#000"/>
<rect x="715" y="471" width="1" height="34" fill="#000"/>
<rect x="713" y="478" width="5" height="27" fill="#000"/>
<rect x="714" y="479" width="3" height="25" fill="#fff"/>
<rect x="723" y="459" width="1" height="31" fill="#000"/>
<rect x="721" y="465" width="5" height="14" fill="#000"/>
<rect x="722" y="466" width="3" height="12" fill="#fff"/>
<rect x="731" y="438" width="1" height="42" fill="#000"/>
<rect x="729" y="448" width="5" height="19" fill="#000"/>
<rect x="730" y="449" width="3" height="17" fill="#fff"/>
<rect x="739" y="436" width="1" height="49" fill="#000"/>
<rect x="737" y="447" width="5" height="33" fill="#000"/>
<rect x="747" y="469" width="1" height="21" fill="#000"/>
<rect x="745" y="479" width="5" height="3" fill="#000"/>
<rect x="755" y="472" width="1" height="21" fill="#000"/>
<rect x="753" y="479" width="5" height="3" fill="#000"/>
<rect x="754" y="480" width="3" height="1" fill="#fff"/>
<rect x="763" y="468" width="1" height="34" fill="#000"/>
<rect x="761" y="478" width="5" height="21" fill="#000"/>
<rect x="771" y="479" width="1" height="32" fill="#000"/>
<rect x="769" y="491" width="5" height="8" fill="#000"/>
<rect x="770" y="492" width="3" height="6" fill="#fff"/>
<rect x="779" y="450" width="1" height="54" fill="#000"/>
<rect x="777" y="453" width="5" height="40" fill="#000"/>
<rect x="778" y="454" width="3" height="38" fill="#fff"/>
<rect x="787" y="443" width="1" height="63" fill="#000"/>
<rect x="785" y="453" width="5" height="32" fill="#000"/>
<rect x="795" y="467" width="1" height="69" fill="#000"/>
<rect x="793" y="484" width="5" height="49" fill="#000"/>
<rect x="803" y="515" width="1" height="22" fill="#000"/>
<rect x="801" y="522" width="5" height="11" fill="#000"/>
<rect x="802" y="523" width="3" height="9" fill="#fff"/>
<rect x="811" y="506" width="1" height="20" fill="#000"/>
<rect x="809" y="508" width="5" height="15" fill="#000"/>
<rect x="810" y="509" width="3" height="13" fill="#fff"/>
<rect x="819" y="472" width="1" height="37" fill="#000"/>
<rect x="817" y="487" width="5" height="22" fill="#000"/>
<rect x="818" y="488" width="3" height="20" fill="#fff"/>
<rect x="827" y="459" width="1" height="53" fill="#000"/>
<rect x="825" y="467" width="5" height="21" fill="#000"/>
<rect x="826" y="468" width="3" height="19" fill="#fff"/>
<rect x="835" y="416" width="1" height="90" fill="#000"/>
<rect x="833" y="426" width="5" height="42" fill="#000"/>
<rect x="834" y="427" width="3" height="40" fill="#fff"/>
<rect x="843" y="386" width="1" height="67" fill="#000"/>
<rect x="841" y="399" width="5" height="28" fill="#000"/>
<rect x="842" y="400" width="3" height="26" fill="#fff"/>
<rect x="851" y="386" width="1" height="17" fill="#000"/>
<rect x="849" y="397" width="5" height="3" fill="#000"/>
<rect x="850" y="398" width="3" height="1" fill="#fff"/>
<rect x="859" y="379" width="1" height="19" fill="#000"/>
<rect x="857" y="389" width="5" height="9" fill="#000"/>
<rect x="858" y="390" width="3" height="7" fill="#fff"/>
<rect x="867" y="366" width="1" height="34" fill="#000"/>
<rect x="865" y="366" width="5" height="24" fill="#000"/>
<rect x="866" y="367" width="3" height="22" fill="#fff"/>
<rect x="875" y="339" width="1" height="56" fill="#000"/>
<rect x="873" y="350" width="5" height="17" fill="#000"/>
<rect x="874" y="351" width="3" height="15" fill="#fff"/>
<rect x="883" y="317" width="1" height="45" fill="#000"/>
<rect x="881" y="352" width="5" height="1" fill="#000"/>
<rect x="891" y="325" width="1" height="37" fill="#000"/>
<rect x="889" y="326" width="5" height="28" fill="#000"/>
<rect x="890" y="327" width="3" height="26" fill="#fff"/>
<rect x="899" y="325" width="1" height="35" fill="#000"/>
<rect x="897" y="325" width="5" height="15" fill="#000"/>
<rect x="907" y="308" width="1" height="33" fill="#000"/>
<rect x="905" y="314" width="5" height="27" fill="#000"/>
<rect x="906" y="315" width="3" height="25" fill="#fff"/>
<rect x="915" y="314" width="1" height="28" fill="#000"/>
<rect x="913" y="314" width="5" height="25" fill="#000"/>
<rect x="923" y="298" width="1" height="48" fill="#000"/>
<rect x="921" y="308" width="5" height="31" fill="#000"/>
<rect x="922" y="309" width="3" height="29" fill="#fff"/>
<rect x="931" y="293" width="1" height="58" fill="#000"/>
<rect x="929" y="308" width="5" height="26" fill="#000"/>
<rect x="939" y="330" width="1" height="28" fill="#000"/>
<rect x="937" y="331" width="5" height="16" fill="#000"/>
<rect x="947" y="337" width="1" height="9" fill="#000"/>
<rect x="945" y="340" width="5" height="3" fill="#000"/>
<rect x="946" y="341" width="3" height="1" fill="#fff"/>
<rect x="955" y="336" width="1" height="49" fill="#000"/>
<rect x="953" y="340" width="5" height="35" fill="#000"/>
<rect x="963" y="354" width="1" height="23" fill="#000"/>
<rect x="961" y="360" width="5" height="15" fill="#000"/>
<rect x="962" y="361" width="3" height="13" fill="#fff"/>
<rect x="971" y="336" width="1" height="37" fill="#000"/>
<rect x="969" y="362" width="5" height="1" fill="#000"/>
<rect x="979" y="317" width="1" height="50" fill="#000"/>
<rect x="977" y="323" width="5" height="40" fill="#000"/>
<rect x="978" y="324" width="3" height="38" fill="#fff"/>
<rect x="987" y="277" width="1" height="67" fill="#000"/>
<rect x="985" y="277" width="5" height="46" fill="#000"/>
<rect x="986" y="278" width="3" height="44" fill="#fff"/>
<rect x="995" y="257" width="1" height="28" fill="#000"/>
<rect x="993" y="266" width="5" height="12" fill="#000"/>
<rect x="994" y="267" width="3" height="10" fill="#fff"/>
<rect x="1003" y="265" width="1" height="30" fill="#000"/>
<rect x="1001" y="267" width="5" height="25" fill="#000"/>
<rect x="1011" y="254" width="1" height="41" fill="#000"/>
<rect x="1009" y="263" width="5" height="29" fill="#000"/>
<rect x="1010" y="264" width="3" height="27" fill="#fff"/>
<rect x="1019" y="204" width="1" height="67" fill="#000"/>
<rect x="1017" y="226" width="5" height="38" fill="#000"/>
<rect x="1018" y="227" width="3" height="36" fill="#fff"/>
<rect x="1027" y="192" width="1" height="65" fill="#000"/>
<rect x="1025" y="208" width="5" height="19" fill="#000"/>
<rect x="1026" y="209" width="3" height="17" fill="#fff"/>
<rect x="1035" y="164" width="1" height="57" fill="#000"/>
<rect x="1033" y="165" width="5" height="44" fill="#000"/>
<rect x="1034" y="166" width="3" height="42" fill="#fff"/>
<rect x="1043" y="162" width="1" height="31" fill="#000"/>
<rect x="1041" y="165" width="5" height="12" fill="#000"/>
<rect x="1051" y="129" width="1" height="54" fill="#000"/>
<rect x="1049" y="147" width="5" height="30" fill="#000"/>
<rect x="1050" y="148" width="3" height="28" fill="#fff"/>
<rect x="1059" y="138" width="1" height="34" fill="#000"/>
<rect x="1057" y="147" width="5" height="14" fill="#000"/>
<rect x="1067" y="143" width="1" height="34" fill="#000"/>
<rect x="1065" y="159" width="5" height="18" fill="#000"/>
<rect x="1075" y="146" width="1" height="46" fill="#000"/>
<rect x="1073" y="175" width="5" height="17" fill="#000"/>
<rect x="1083" y="178" width="1" height="48" fill="#000"/>
<rect x="1081" y="189" width="5" height="21" fill="#000"/>
<rect x="1091" y="199" width="1" height="24" fill="#000"/>
<rect x="1089" y="208" width="5" height="1" fill="#000"/>
<rect x="1099" y="205" width="1" height="33" fill="#000"/>
<rect x="1097" y="207" width="5" height="17" fill="#000"/>
<rect x="1107" y="196" width="1" height="45" fill="#000"/>
<rect x="1105" y="223" width="5" height="5" fill="#000"/>
<rect x="1115" y="203" width="1" height="44" fill="#000"/>
<rect x="1113" y="227" width="5" height="17" fill="#000"/>
<rect x="1123" y="218" width="1" height="46" fill="#000"/>
<rect x="1121" y="242" width="5" height="11" fill="#000"/>
<rect x="1131" y="239" width="1" height="28" fill="#000"/>
<rect x="1129" y="250" width="5" height="12" fill="#000"/>
<rect x="1139" y="257" width="1" height="10" fill="#000"/>
<rect x="1137" y="258" width="5" height="4" fill="#000"/>
<rect x="1138" y="259" width="3" height="2" fill="#fff"/>
<rect x="1147" y="235" width="1" height="25" fill="#000"/>
<rect x="1145" y="243" width="5" height="16" fill="#000"/>
<rect x="1146" y="244" width="3" height="14" fill="#fff"/>
<rect x="1155" y="232" width="1" height="29" fill="#000"/>
<rect x="1153" y="238" width="5" height="7" fill="#000"/>
<rect x="1154" y="239" width="3" height="5" fill="#fff"/>
<rect x="1163" y="207" width="1" height="65" fill="#000"/>
<rect x="1161" y="237" width="5" height="6" fill="#000"/>
<rect x="1171" y="199" width="1" height="63" fill="#000"/>
<rect x="1169" y="242" width="5" height="1" fill="#000"/>
<rect x="1179" y="201" width="1" height="55" fill="#000"/>
<rect x="1177" y="208" width="5" height="35" fill="#000"/>
<rect x="1178" y="209" width="3" height="33" fill="#fff"/>
<rect x="1187" y="190" width="1" height="20" fill="#000"/>
<rect x="1185" y="194" width="5" height="14" fill="#000"/>
<rect x="1186" y="195" width="3" height="12" fill="#fff"/>
<rect x="1195" y="179" width="1" height="34" fill="#000"/>
<rect x="1193" y="195" width="5" height="5" fill="#000"/>
<rect x="1203" y="175" width="1" height="32" fill="#000"/>
<rect x="1201" y="190" width="5" height="9" fill="#000"/>
<rect x="1202" y="191" width="3" height="7" fill="#fff"/>
<rect x="1211" y="184" width="1" height="46" fill="#000"/>
<rect x="1209" y="189" width="5" height="41" fill="#000"/>
<rect x="1219" y="151" width="1" height="92" fill="#000"/>
<rect x="1217" y="153" width="5" height="75" fill="#000"/>
<rect x="1218" y="154" width="3" height="73" fill="#fff"/>
<rect x="1227" y="122" width="1" height="63" fill="#000"/>
<rect x="1225" y="124" width="5" height="30" fill="#000"/>
<rect x="1226" y="125" width="3" height="28" fill="#fff"/>
<rect x="1235" y="120" width="1" height="67" fill="#000"/>
<rect x="1233" y="124" width="5" height="12" fill="#000"/>
<rect x="1243" y="119" width="1" height="29" fill="#000"/>
<rect x="1241" y="135" width="5" height="1" fill="#000"/>
<rect x="1251" y="127" width="1" height="54" fill="#000"/>
<rect x="1249" y="136" width="5" height="33" fill="#000"/>
<rect x="1259" y="127" width="1" height="50" fill="#000"/>
<rect x="1257" y="129" width="5" height="40" fill="#000"/>
<rect x="1258" y="130" width="3" height="38" fill="#fff"/>
<rect x="1267" y="103" width="1" height="48" fill="#000"/>
<rect x="1265" y="129" width="5" height="12" fill="#000"/>
<rect x="1275" y="114" width="1" height="33" fill="#000"/>
<rect x="1273" y="121" width="5" height="20" fill="#000"/>
<rect x="1274" y="122" width="3" height="18" fill="#fff"/>
<rect x="1283" y="116" width="1" height="34" fill="#000"/>
<rect x="1281" y="119" width="5" height="4" fill="#000"/>
<rect x="1291" y="101" width="1" height="22" fill="#000"/>
<rect x="1289" y="107" width="5" height="15" fill="#000"/>
<rect x="1290" y="108" width="3" height="13" fill="#fff"/>
<rect x="1299" y="107" width="1" height="26" fill="#000"/>
<rect x="1297" y="108" width="5" height="17" fill="#000"/>
<rect x="1307" y="62" width="1" height="70" fill="#000"/>
<rect x="1305" y="75" width="5" height="50" fill="#000"/>
<rect x="1306" y="76" width="3" height="48" fill="#fff"/>
<rect x="1315" y="50" width="1" height="47" fill="#000"/>
<rect x="1313" y="72" width="5" height="4" fill="#000"/>
<rect x="1314" y="73" width="3" height="2" fill="#fff"/>
<rect x="1323" y="64" width="1" height="48" fill="#000"/>
<rect x="1321" y="72" width="5" height="37" fill="#000"/>
<rect x="1331" y="106" width="1" height="22" fill="#000"/>
<rect x="1329" y="107" width="5" height="4" fill="#000"/>
<rect x="1339" y="108" width="1" height="10" fill="#000"/>
<rect x="1337" y="110" width="5" height="5" fill="#000"/>
<rect x="1347" y="112" width="1" height="27" fill="#000"/>
<rect x="1345" y="115" width="5" height="13" fill="#000"/>
<rect x="1355" y="102" width="1" height="33" fill="#000"/>
<rect x="1353" y="104" width="5" height="24" fill="#000"/>
<rect x="1354" y="105" width="3" height="22" fill="#fff"/>
<rect x="1363" y="75" width="1" height="45" fill="#000"/>
<rect x="1361" y="78" width="5" height="27" fill="#000"/>
<rect x="1362" y="79" width="3" height="25" fill="#fff"/>
<rect x="1371" y="72" width="1" height="16" fill="#000"/>
<rect x="1369" y="79" width="5" height="1" fill="#000"/>
<rect x="1379" y="75" width="1" height="9" fill="#000"/>
<rect x="1377" y="78" width="5" height="5" fill="#000"/>
</g>
<rect x="0" y="23" width="1647" height="1" fill="#000"/>
<rect x="0" y="576" width="1647" height="1" fill="#000"/>
<rect x="1646" y="23" width="1" height="554" fill="#000"/>
<rect x="0" y="578" width="1647" height="1" fill="#000"/>
<rect x="0" y="748" width="1647" height="1" fill="#000"/>
<rect x="1646" y="578" width="1" height="171" fill="#000"/>
<rect x="0" y="750" width="1647" height="1" fill="#000"/>
<rect x="0" y="924" width="1647" height="1" fill="#000"/>
<rect x="1646" y="750" width="1" height="175" fill="#000"/>
<rect x="1647" y="78" width="2" height="1" fill="#000"/>
<text x="1652" y="82.1" font-family="Liberation Sans" font-size="10" fill="#000" font-weight="normal" textLength="33" lengthAdjust="spacingAndGlyphs">0.93570</text>
<rect x="1647" y="144" width="2" height="1" fill="#000"/>
<text x="1652" y="148.1" font-family="Liberation Sans" font-size="10" fill="#000" font-weight="normal" textLength="33" lengthAdjust="spacingAndGlyphs">0.93200</text>
<rect x="1647" y="45" width="2" height="1" fill="#000"/>
<text x="1652" y="49.1" font-family="Liberation Sans" font-size="10" fill="#000" font-weight="normal" textLength="33" lengthAdjust="spacingAndGlyphs">0.93755</text>
<rect x="1647" y="111" width="2" height="1" fill="#000"/>
<text x="1652" y="115.1" font-family="Liberation Sans" font-size="10" fill="#000" font-weight="normal" textLength="33" lengthAdjust="spacingAndGlyphs">0.93385</text>
<rect x="1647" y="177" width="2" height="1" fill="#000"/>
<text x="1652" y="181.1" font-family="Liberation Sans" font-size="10" fill="#000" font-weight="normal" textLength="33" lengthAdjust="spacingAndGlyphs">0.93015</text>
<rect x="1647" y="210" width="2" height="1" fill="#000"/>
<text x="1652" y="214.1" font-family="Liberation Sans" font-size="10" fill="#000" font-weight="normal" textLength="33" lengthAdjust="spacingAndGlyphs">0.92835</text>
<rect x="1647" y="243" width="2" height="1" fill="#000"/>
<text x="1652" y="247.1" font-family="Liberation Sans" font-size="10" fill="#000" font-weight="normal" textLength="33" lengthAdjust="spacingAndGlyphs">0.92650</text>
<rect x="1647" y="276" width="2" height="1" fill="#000"/>
<text x="1652" y="280.1" font-family="Liberation Sans" font-size="10" fill="#000" font-weight="normal" textLength="33" lengthAdjust="spacingAndGlyphs">0.92465</text>
<rect x="1647" y="309" width="2" height="1" fill="#000"/>
<text x="1652" y="313.1" font-family="Liberation Sans" font-size="10" fill="#000" font-weight="normal" textLength="33" lengthAdjust="spacingAndGlyphs">0.92280</text>
<rect x="1647" y="342" width="2" height="1" fill="#000"/>
<text x="1652" y="346.1" font-family="Liberation Sans" font-size="10" fill="#000" font-weight="normal" textLength="33" lengthAdjust="spacingAndGlyphs">0.92095</text>
<rect x="1647" y="375" width="2" height="1" fill="#000"/>
<text x="1652" y="379.1" font-family="Liberation Sans" font-size="10" fill="#000" font-weight="normal" textLength="33" lengthAdjust="spacingAndGlyphs">0.91910</text>
<rect x="1647" y="408" width="2" height="1" fill="#000"/>
<text x="1652" y="412.1" font-family="Liberation Sans" font-size="10" fill="#000" font-weight="normal" textLength="33" lengthAdjust="spacingAndGlyphs">0.91725</text>
<rect x="1647" y="441" width="2" height="1" fill="#000"/>
<text x="1652" y="445.1" font-family="Liberation Sans" font-size="10" fill="#000" font-weight="normal" textLength="33" lengthAdjust="spacingAndGlyphs">0.91540</text>
<rect x="1647" y="474" width="2" height="1" fill="#000"/>
<text x="1652" y="478.1" font-family="Liberation Sans" font-size="10" fill="#000" font-weight="normal" textLength="33" lengthAdjust="spacingAndGlyphs">0.91355</text>
<rect x="1647" y="507" width="2" height="1" fill="#000"/>
<text x="1652" y="511.1" font-family="Liberation Sans" font-size="10" fill="#000" font-weight="normal" textLength="33" lengthAdjust="spacingAndGlyphs">0.91175</text>
<rect x="1647" y="540" width="2" height="1" fill="#000"/>
<text x="1652" y="544.1" font-family="Liberation Sans" font-size="10" fill="#000" font-weight="normal" textLength="33" lengthAdjust="spacingAndGlyphs">0.90990</text>
<rect x="1647" y="573" width="2" height="1" fill="#000"/>
<text x="1652" y="577.1" font-family="Liberation Sans" font-size="10" fill="#000" font-weight="normal" textLength="33" lengthAdjust="spacingAndGlyphs">0.90805</text>
<rect x="1648" y="28" width="41" height="11" fill="#ff0000"/>
<text x="1652" y="37" font-family="Liberation Sans" font-size="10" fill="#fff" font-weight="normal" textLength="33" lengthAdjust="spacingAndGlyphs">0.93814</text>
<rect x="1648" y="53" width="41" height="11" fill="#ff0000"/>
<text x="1652" y="62" font-family="Liberation Sans" font-size="10" fill="#fff" font-weight="normal" textLength="33" lengthAdjust="spacingAndGlyphs">0.93680</text>
<rect x="1648" y="76" width="41" height="11" fill="#000000"/>
<text x="1652" y="85" font-family="Liberation Sans" font-size="10" fill="#fff" font-weight="normal" textLength="33" lengthAdjust="spacingAndGlyphs">0.93553</text>
<rect x="1648" y="93" width="41" height="11" fill="#ffa500"/>
<text x="1652" y="102" font-family="Liberation Sans" font-size="10" fill="#fff" font-weight="normal" textLength="33" lengthAdjust="spacingAndGlyphs">0.93452</text>
<rect x="1648" y="121" width="41" height="11" fill="#0000ff"/>
<text x="1652" y="130" font-family="Liberation Sans" font-size="10" fill="#fff" font-weight="normal" textLength="33" lengthAdjust="spacingAndGlyphs">0.93295</text>
<rect x="1648" y="144" width="41" height="11" fill="#0000ff"/>
<text x="1652" y="153" font-family="Liberation Sans" font-size="10" fill="#fff" font-weight="normal" textLength="33" lengthAdjust="spacingAndGlyphs">0.93167</text>
<rect x="3" y="682" width="1" height="21" fill="#c0c0c0"/>
<rect x="11" y="682" width="1" height="19" fill="#c0c0c0"/>
<rect x="19" y="682" width="1" height="20" fill="#c0c0c0"/>
<rect x="27" y="682" width="1" height="22" fill="#c0c0c0"/>
<rect x="35" y="682" width="1" height="20" fill="#c0c0c0"/>
<rect x="43" y="682" width="1" height="25" fill="#c0c0c0"/>
<rect x="51" y="682" width="1" height="29" fill="#c0c0c0"/>
<rect x="59" y="682" width="1" height="35" fill="#c0c0c0"/>
<rect x="67" y="682" width="1" height="32" fill="#c0c0c0"/>
<rect x="75" y="682" width="1" height="29" fill="#c0c0c0"/>
<rect x="83" y="682" width="1" height="26" fill="#c0c0c0"/>
<rect x="91" y="682" width="1" height="21" fill="#c0c0c0"/>
<rect x="99" y="682" width="1" height="14" fill="#c0c0c0"/>
<rect x="107" y="682" width="1" height="12" fill="#c0c0c0"/>
<rect x="115" y="682" width="1" height="19" fill="#c0c0c0"/>
<rect x="123" y="682" width="1" height="25" fill="#c0c0c0"/>
<rect x="131" y="682" width="1" height="31" fill="#c0c0c0"/>
<rect x="139" y="682" width="1" height="35" fill="#c0c0c0"/>
<rect x="147" y="682" width="1" height="35" fill="#c0c0c0"/>
<rect x="155" y="682" width="1" height="38" fill="#c0c0c0"/>
<rect x="163" y="682" width="1" height="43" fill="#c0c0c0"/>
<rect x="171" y="682" width="1" height="43" fill="#c0c0c0"/>
<rect x="179" y="682" width="1" height="44" fill="#c0c0c0"/>
<rect x="187" y="682" width="1" height="45" fill="#c0c0c0"/>
<rect x="195" y="682" width="1" height="46" fill="#c0c0c0"/>
<rect x="203" y="682" width="1" height="46" fill="#c0c0c0"/>
<rect x="211" y="682" width="1" height="47" fill="#c0c0c0"/>
<rect x="219" y="682" width="1" height="48" fill="#c0c0c0"/>
<rect x="227" y="682" width="1" height="49" fill="#c0c0c0"/>
<rect x="235" y="682" width="1" height="50" fill="#c0c0c0"/>
<rect x="243" y="682" width="1" height="48" fill="#c0c0c0"/>
<rect x="251" y="682" width="1" height="42" fill="#c0c0c0"/>
<rect x="259" y="682" width="1" height="35" fill="#c0c0c0"/>
<rect x="267" y="682" width="1" height="27" fill="#c0c0c0"/>
<rect x="275" y="682" width="1" height="21" fill="#c0c0c0"/>
<rect x="283" y="682" width="1" height="16" fill="#c0c0c0"/>
<rect x="291" y="682" width="1" height="6" fill="#c0c0c0"/>
<rect x="299" y="682" width="1" height="5" fill="#c0c0c0"/>
<rect x="307" y="682" width="1" height="4" fill="#c0c0c0"/>
<rect x="315" y="682" width="1" height="2" fill="#c0c0c0"/>
<rect x="323" y="682" width="1" height="2" fill="#c0c0c0"/>
<rect x="331" y="682" width="1" height="3" fill="#c0c0c0"/>
<rect x="339" y="682" width="1" height="6" fill="#c0c0c0"/>
<rect x="347" y="682" width="1" height="6" fill="#c0c0c0"/>
<rect x="355" y="682" width="1" height="7" fill="#c0c0c0"/>
<rect x="363" y="682" width="1" height="9" fill="#c0c0c0"/>
<rect x="371" y="682" width="1" height="10" fill="#c0c0c0"/>
<rect x="379" y="682" width="1" height="9" fill="#c0c0c0"/>
<rect x="387" y="682" width="1" height="12" fill="#c0c0c0"/>
<rect x="395" y="682" width="1" height="12" fill="#c0c0c0"/>
<rect x="403" y="682" width="1" height="23" fill="#c0c0c0"/>
<rect x="411" y="682" width="1" height="35" fill="#c0c0c0"/>
<rect x="419" y="682" width="1" height="43" fill="#c0c0c0"/>
<rect x="427" y="682" width="1" height="48" fill="#c0c0c0"/>
<rect x="435" y="682" width="1" height="55" fill="#c0c0c0"/>
<rect x="443" y="682" width="1" height="58" fill="#c0c0c0"/>
<rect x="451" y="682" width="1" height="48" fill="#c0c0c0"/>
<rect x="459" y="682" width="1" height="42" fill="#c0c0c0"/>
<rect x="467" y="682" width="1" height="37" fill="#c0c0c0"/>
<rect x="475" y="682" width="1" height="30" fill="#c0c0c0"/>
<rect x="483" y="682" width="1" height="25" fill="#c0c0c0"/>
<rect x="491" y="682" width="1" height="27" fill="#c0c0c0"/>
<rect x="499" y="682" width="1" height="35" fill="#c0c0c0"/>
<rect x="507" y="682" width="1" height="43" fill="#c0c0c0"/>
<rect x="515" y="682" width="1" height="50" fill="#c0c0c0"/>
<rect x="523" y="682" width="1" height="52" fill="#c0c0c0"/>
<rect x="531" y="682" width="1" height="53" fill="#c0c0c0"/>
<rect x="539" y="682" width="1" height="48" fill="#c0c0c0"/>
<rect x="547" y="682" width="1" height="40" fill="#c0c0c0"/>
<rect x="555" y="682" width="1" height="33" fill="#c0c0c0"/>
<rect x="563" y="682" width="1" height="27" fill="#c0c0c0"/>
<rect x="571" y="682" width="1" height="23" fill="#c0c0c0"/>
<rect x="579" y="682" width="1" height="19" fill="#c0c0c0"/>
<rect x="587" y="682" width="1" height="23" fill="#c0c0c0"/>
<rect x="595" y="682" width="1" height="23" fill="#c0c0c0"/>
<rect x="603" y="682" width="1" height="25" fill="#c0c0c0"/>
<rect x="611" y="682" width="1" height="26" fill="#c0c0c0"/>
<rect x="619" y="682" width="1" height="23" fill="#c0c0c0"/>
<rect x="627" y="682" width="1" height="19" fill="#c0c0c0"/>
<rect x="635" y="682" width="1" height="16" fill="#c0c0c0"/>
<rect x="643" y="682" width="1" height="15" fill="#c0c0c0"/>
<rect x="651" y="682" width="1" height="14" fill="#c0c0c0"/>
<rect x="659" y="682" width="1" height="14" fill="#c0c0c0"/>
<rect x="667" y="682" width="1" height="12" fill="#c0c0c0"/>
<rect x="675" y="682" width="1" height="10" fill="#c0c0c0"/>
<rect x="699" y="682" width="1" height="3" fill="#c0c0c0"/>
<rect x="707" y="682" width="1" height="6" fill="#c0c0c0"/>
<rect x="715" y="682" width="1" height="5" fill="#c0c0c0"/>
<rect x="723" y="682" width="1" height="2" fill="#c0c0c0"/>
<rect x="731" y="680" width="1" height="3" fill="#c0c0c0"/>
<rect x="739" y="680" width="1" height="3" fill="#c0c0c0"/>
<rect x="771" y="682" width="1" height="4" fill="#c0c0c0"/>
<rect x="795" y="682" width="1" height="7" fill="#c0c0c0"/>
<rect x="803" y="682" width="1" height="11" fill="#c0c0c0"/>
<rect x="811" y="682" width="1" height="12" fill="#c0c0c0"/>
<rect x="819" y="682" width="1" height="11" fill="#c0c0c0"/>
<rect x="827" y="682" width="1" height="6" fill="#c0c0c0"/>
<rect x="835" y="681" width="1" height="2" fill="#c0c0c0"/>
<rect x="843" y="671" width="1" height="12" fill="#c0c0c0"/>
<rect x="851" y="663" width="1" height="20" fill="#c0c0c0"/>
<rect x="859" y="657" width="1" height="26" fill="#c0c0c0"/>
<rect x="867" y="649" width="1" height="34" fill="#c0c0c0"/>
<rect x="875" y="642" width="1" height="41" fill="#c0c0c0"/>
<rect x="883" y="636" width="1" height="47" fill="#c0c0c0"/>
<rect x="891" y="629" width="1" height="54" fill="#c0c0c0"/>
<rect x="899" y="626" width="1" height="57" fill="#c0c0c0"/>
<rect x="907" y="622" width="1" height="61" fill="#c0c0c0"/>
<rect x="915" y="621" width="1" height="62" fill="#c0c0c0"/>
<rect x="923" y="618" width="1" height="65" fill="#c0c0c0"/>
<rect x="931" y="620" width="1" height="63" fill="#c0c0c0"/>
<rect x="939" y="623" width="1" height="60" fill="#c0c0c0"/>
<rect x="947" y="626" width="1" height="57" fill="#c0c0c0"/>
<rect x="955" y="632" width="1" height="51" fill="#c0c0c0"/>
<rect x="963" y="637" width="1" height="46" fill="#c0c0c0"/>
<rect x="971" y="641" width="1" height="42" fill="#c0c0c0"/>
<rect x="979" y="640" width="1" height="43" fill="#c0c0c0"/>
<rect x="987" y="634" width="1" height="49" fill="#c0c0c0"/>
<rect x="995" y="628" width="1" height="55" fill="#c0c0c0"/>
<rect x="1003" y="628" width="1" height="55" fill="#c0c0c0"/>
<rect x="1011" y="624" width="1" height="59" fill="#c0c0c0"/>
<rect x="1019" y="618" width="1" height="65" fill="#c0c0c0"/>
<rect x="1027" y="612" width="1" height="71" fill="#c0c0c0"/>
<rect x="1035" y="602" width="1" height="81" fill="#c0c0c0"/>
<rect x="1043" y="597" width="1" height="86" fill="#c0c0c0"/>
<rect x="1051" y="591" width="1" height="92" fill="#c0c0c0"/>
<rect x="1059" y="588" width="1" height="95" fill="#c0c0c0"/>
<rect x="1067" y="589" width="1" height="94" fill="#c0c0c0"/>
<rect x="1075" y="593" width="1" height="90" fill="#c0c0c0"/>
<rect x="1083" y="599" width="1" height="84" fill="#c0c0c0"/>
<rect x="1091" y="605" width="1" height="78" fill="#c0c0c0"/>
<rect x="1099" y="612" width="1" height="71" fill="#c0c0c0"/>
<rect x="1107" y="619" width="1" height="64" fill="#c0c0c0"/>
<rect x="1115" y="627" width="1" height="56" fill="#c0c0c0"/>
<rect x="1123" y="635" width="1" height="48" fill="#c0c0c0"/>
<rect x="1131" y="643" width="1" height="40" fill="#c0c0c0"/>
<rect x="1139" y="649" width="1" height="34" fill="#c0c0c0"/>
<rect x="1147" y="652" width="1" height="31" fill="#c0c0c0"/>
<rect x="1155" y="655" width="1" height="28" fill="#c0c0c0"/>
<rect x="1163" y="658" width="1" height="25" fill="#c0c0c0"/>
<rect x="1171" y="660" width="1" height="23" fill="#c0c0c0"/>
<rect x="1179" y="658" width="1" height="25" fill="#c0c0c0"/>
<rect x="1187" y="655" width="1" height="28" fill="#c0c0c0"/>
<rect x="1195" y="652" width="1" height="31" fill="#c0c0c0"/>
<rect x="1203" y="652" width="1" height="31" fill="#c0c0c0"/>
<rect x="1211" y="656" width="1" height="27" fill="#c0c0c0"/>
<rect x="1219" y="650" width="1" height="33" fill="#c0c0c0"/>
<rect x="1227" y="642" width="1" height="41" fill="#c0c0c0"/>
<rect x="1235" y="638" width="1" height="45" fill="#c0c0c0"/>
<rect x="1243" y="635" width="1" height="48" fill="#c0c0c0"/>
<rect x="1251" y="637" width="1" height="46" fill="#c0c0c0"/>
<rect x="1259" y="635" width="1" height="48" fill="#c0c0c0"/>
<rect x="1267" y="635" width="1" height="48" fill="#c0c0c0"/>
<rect x="1275" y="633" width="1" height="50" fill="#c0c0c0"/>
<rect x="1283" y="632" width="1" height="51" fill="#c0c0c0"/>
<rect x="1291" y="630" width="1" height="53" fill="#c0c0c0"/>
<rect x="1299" y="632" width="1" height="51" fill="#c0c0c0"/>
<rect x="1307" y="630" width="1" height="53" fill="#c0c0c0"/>
<rect x="1315" y="624" width="1" height="59" fill="#c0c0c0"/>
<rect x="1323" y="630" width="1" height="53" fill="#c0c0c0"/>
<rect x="1331" y="630" width="1" height="53" fill="#c0c0c0"/>
<rect x="1339" y="633" width="1" height="50" fill="#c0c0c0"/>
<rect x="1347" y="638" width="1" height="45" fill="#c0c0c0"/>
<rect x="1355" y="639" width="1" height="44" fill="#c0c0c0"/>
<rect x="1363" y="638" width="1" height="45" fill="#c0c0c0"/>
<rect x="1371" y="637" width="1" height="46" fill="#c0c0c0"/>
<rect x="1379" y="638" width="1" height="45" fill="#c0c0c0"/>
<polyline points="-4.5,716.5 3.5,714.5 11.5,712.5 19.5,710.5 27.5,708.5 35.5,707.5 43.5,706.5 51.5,705.5 59.5,706.5 67.5,706.5 75.5,707.5 83.5,707.5 91.5,707.5 99.5,707.5 107.5,706.5 115.5,705.5 123.5,705.5 131.5,704.5 139.5,704.5 147.5,705.5 155.5,706.5 163.5,709.5 171.5,712.5 179.5,716.5 187.5,719.5 195.5,721.5 203.5,723.5 211.5,724.5 219.5,726.5 227.5,727.5 235.5,728.5 243.5,728.5 251.5,728.5 259.5,727.5 267.5,725.5 275.5,722.5 283.5,718.5 291.5,714.5 299.5,709.5 307.5,704.5 315.5,699.5 323.5,694.5 331.5,690.5 339.5,688.5 347.5,686.5 355.5,685.5 363.5,686.5 371.5,686.5 379.5,687.5 387.5,688.5 395.5,689.5 403.5,691.5 411.5,695.5 419.5,699.5 427.5,703.5 435.5,708.5 443.5,714.5 451.5,718.5 459.5,721.5 467.5,724.5 475.5,725.5 483.5,724.5 491.5,722.5 499.5,721.5 507.5,719.5 515.5,718.5 523.5,719.5 531.5,720.5 539.5,721.5 547.5,723.5 555.5,724.5 563.5,723.5 571.5,722.5 579.5,719.5 587.5,716.5 595.5,713.5 603.5,710.5 611.5,708.5 619.5,706.5 627.5,704.5 635.5,703.5 643.5,702.5 651.5,701.5 659.5,700.5 667.5,699.5 675.5,697.5 683.5,695.5 691.5,692.5 699.5,690.5 707.5,689.5 715.5,688.5 723.5,687.5 731.5,685.5 739.5,684.5 747.5,683.5 755.5,683.5 763.5,683.5 771.5,683.5 779.5,682.5 787.5,682.5 795.5,683.5 803.5,684.5 811.5,685.5 819.5,686.5 827.5,687.5 835.5,687.5 843.5,685.5 851.5,683.5 859.5,680.5 867.5,676.5 875.5,670.5 883.5,664.5 891.5,657.5 899.5,650.5 907.5,644.5 915.5,638.5 923.5,633.5 931.5,629.5 939.5,626.5 947.5,624.5 955.5,624.5 963.5,625.5 971.5,627.5 979.5,629.5 987.5,630.5 995.5,631.5 1003.5,632.5 1011.5,632.5 1019.5,631.5 1027.5,629.5 1035.5,625.5 1043.5,620.5 1051.5,615.5 1059.5,610.5 1067.5,605.5 1075.5,601.5 1083.5,599.5 1091.5,597.5 1099.5,597.5 1107.5,599.5 1115.5,602.5 1123.5,607.5 1131.5,614.5 1139.5,620.5 1147.5,627.5 1155.5,633.5 1163.5,639.5 1171.5,644.5 1179.5,648.5 1187.5,652.5 1195.5,654.5 1203.5,655.5 1211.5,655.5 1219.5,655.5 1227.5,654.5 1235.5,651.5 1243.5,649.5 1251.5,646.5 1259.5,644.5 1267.5,642.5 1275.5,640.5 1283.5,637.5 1291.5,635.5 1299.5,634.5 1307.5,633.5 1315.5,632.5 1323.5,631.5 1331.5,631.5 1339.5,630.5 1347.5,631.5 1355.5,632.5 1363.5,633.5 1371.5,633.5 1379.5,634.5" fill="none" stroke="#ff0000" stroke-width="1" stroke-dasharray="3,2"/>
<text x="-8" y="591.5" font-family="Liberation Sans" font-size="10" fill="#000" font-weight="normal" textLength="147" lengthAdjust="spacingAndGlyphs">MACD(12,26,9) 0.001668 0.001818</text>
<rect x="1647" y="580" width="2" height="1" fill="#000"/>
<text x="1650.3" y="589.1" font-family="Liberation Sans" font-size="10" fill="#000" font-weight="normal" textLength="37.3" lengthAdjust="spacingAndGlyphs">0.003778</text>
<rect x="1647" y="682" width="2" height="1" fill="#000"/>
<text x="1650.3" y="686.2" font-family="Liberation Sans" font-size="10" fill="#000" font-weight="normal" textLength="18.5" lengthAdjust="spacingAndGlyphs">0.00</text>
<rect x="1647" y="747" width="2" height="1" fill="#000"/>
<text x="1650.3" y="744.7" font-family="Liberation Sans" font-size="10" fill="#000" font-weight="normal" textLength="40.5" lengthAdjust="spacingAndGlyphs">-0.002419</text>
<line x1="0" y1="786.5" x2="1646" y2="786.5" stroke="#c0c0c0" stroke-dasharray="3,3"/>
<text x="1650" y="790.2" font-family="Liberation Sans" font-size="10" fill="#000" font-weight="normal" textLength="9.7" lengthAdjust="spacingAndGlyphs">80</text>
<line x1="0" y1="837.5" x2="1646" y2="837.5" stroke="#c0c0c0" stroke-dasharray="3,3"/>
<text x="1650" y="841.2" font-family="Liberation Sans" font-size="10" fill="#000" font-weight="normal" textLength="9.7" lengthAdjust="spacingAndGlyphs">50</text>
<line x1="0" y1="898.5" x2="1646" y2="898.5" stroke="#c0c0c0" stroke-dasharray="3,3"/>
<text x="1650" y="902.2" font-family="Liberation Sans" font-size="10" fill="#000" font-weight="normal" textLength="9.7" lengthAdjust="spacingAndGlyphs">15</text>
<text x="1650.5" y="760.6" font-family="Liberation Sans" font-size="10" fill="#000" font-weight="normal" textLength="14.2" lengthAdjust="spacingAndGlyphs">100</text>
<text x="1650" y="920.8" font-family="Liberation Sans" font-size="10" fill="#000" font-weight="normal" textLength="4.8" lengthAdjust="spacingAndGlyphs">0</text>
<rect x="1647" y="752" width="2" height="1" fill="#000"/>
<polyline points="-4.5,836.5 3.5,836.5 11.5,842.5 19.5,849.5 27.5,850.5 35.5,846.5 43.5,857.5 51.5,864.5 59.5,868.5 67.5,843.5 75.5,843.5 83.5,841.5 91.5,835.5 99.5,831.5 107.5,834.5 115.5,857.5 123.5,861.5 131.5,861.5 139.5,863.5 147.5,850.5 155.5,858.5 163.5,862.5 171.5,857.5 179.5,857.5 187.5,858.5 195.5,862.5 203.5,859.5 211.5,863.5 219.5,865.5 227.5,861.5 235.5,868.5 243.5,859.5 251.5,838.5 259.5,837.5 267.5,834.5 275.5,833.5 283.5,828.5 291.5,818.5 299.5,838.5 307.5,833.5 315.5,837.5 323.5,837.5 331.5,839.5 339.5,848.5 347.5,840.5 355.5,845.5 363.5,846.5 371.5,846.5 379.5,843.5 387.5,852.5 395.5,841.5 403.5,869.5 411.5,870.5 419.5,871.5 427.5,872.5 435.5,875.5 443.5,871.5 451.5,835.5 459.5,842.5 467.5,838.5 475.5,835.5 483.5,837.5 491.5,851.5 499.5,861.5 507.5,866.5 515.5,864.5 523.5,862.5 531.5,860.5 539.5,846.5 547.5,835.5 555.5,837.5 563.5,834.5 571.5,840.5 579.5,838.5 587.5,851.5 595.5,847.5 603.5,849.5 611.5,850.5 619.5,843.5 627.5,835.5 635.5,837.5 643.5,841.5 651.5,844.5 659.5,842.5 667.5,839.5 675.5,836.5 683.5,818.5 691.5,837.5 699.5,841.5 707.5,845.5 715.5,837.5 723.5,833.5 731.5,828.5 739.5,838.5 747.5,839.5 755.5,838.5 763.5,844.5 771.5,842.5 779.5,829.5 787.5,838.5 795.5,853.5 803.5,849.5 811.5,845.5 819.5,839.5 827.5,832.5 835.5,822.5 843.5,816.5 851.5,814.5 859.5,813.5 867.5,808.5 875.5,804.5 883.5,805.5 891.5,801.5 899.5,806.5 907.5,802.5 915.5,811.5 923.5,805.5 931.5,815.5 939.5,821.5 947.5,820.5 955.5,832.5 963.5,828.5 971.5,828.5 979.5,817.5 987.5,808.5 995.5,805.5 1003.5,815.5 1011.5,810.5 1019.5,803.5 1027.5,800.5 1035.5,794.5 1043.5,798.5 1051.5,795.5 1059.5,799.5 1067.5,805.5 1075.5,811.5 1083.5,818.5 1091.5,819.5 1099.5,824.5 1107.5,826.5 1115.5,831.5 1123.5,834.5 1131.5,838.5 1139.5,837.5 1147.5,831.5 1155.5,829.5 1163.5,831.5 1171.5,831.5 1179.5,819.5 1187.5,814.5 1195.5,816.5 1203.5,813.5 1211.5,834.5 1219.5,812.5 1227.5,805.5 1235.5,809.5 1243.5,809.5 1251.5,823.5 1259.5,814.5 1267.5,818.5 1275.5,814.5 1283.5,814.5 1291.5,810.5 1299.5,817.5 1307.5,806.5 1315.5,805.5 1323.5,819.5 1331.5,822.5 1339.5,823.5 1347.5,828.5 1355.5,822.5 1363.5,814.5 1371.5,815.5 1379.5,816.5" fill="none" stroke="#1e90ff" stroke-width="1"/>
<text x="-6.5" y="763" font-family="Liberation Sans" font-size="10" fill="#000" font-weight="normal" textLength="65" lengthAdjust="spacingAndGlyphs">RSI(14) 62.7021</text>
<text x="-13.5" y="937.2" font-family="Liberation Sans" font-size="10" fill="#000" font-weight="normal" textLength="50.6" lengthAdjust="spacingAndGlyphs">18 Oct 2021</text>
<rect x="51" y="925" width="1" height="3" fill="#000"/>
<text x="50.5" y="937.2" font-family="Liberation Sans" font-size="10" fill="#000" font-weight="normal" textLength="53.2" lengthAdjust="spacingAndGlyphs">19 Oct 04:00</text>
<rect x="115" y="925" width="1" height="3" fill="#000"/>
<text x="114.5" y="937.2" font-family="Liberation Sans" font-size="10" fill="#000" font-weight="normal" textLength="53.2" lengthAdjust="spacingAndGlyphs">20 Oct 12:00</text>
<rect x="179" y="925" width="1" height="3" fill="#000"/>
<text x="178.5" y="937.2" font-family="Liberation Sans" font-size="10" fill="#000" font-weight="normal" textLength="53.2" lengthAdjust="spacingAndGlyphs">21 Oct 20:00</text>
<rect x="243" y="925" width="1" height="3" fill="#000"/>
<text x="242.5" y="937.2" font-family="Liberation Sans" font-size="10" fill="#000" font-weight="normal" textLength="53.2" lengthAdjust="spacingAndGlyphs">25 Oct 04:00</text>
<rect x="307" y="925" width="1" height="3" fill="#000"/>
<text x="306.5" y="937.2" font-family="Liberation Sans" font-size="10" fill="#000" font-weight="normal" textLength="53.2" lengthAdjust="spacingAndGlyphs">26 Oct 12:00</text>
<rect x="371" y="925" width="1" height="3" fill="#000"/>
<text x="370.5" y="937.2" font-family="Liberation Sans" font-size="10" fill="#000" font-weight="normal" textLength="53.2" lengthAdjust="spacingAndGlyphs">27 Oct 20:00</text>
<rect x="435" y="925" width="1" height="3" fill="#000"/>
<text x="434.5" y="937.2" font-family="Liberation Sans" font-size="10" fill="#000" font-weight="normal" textLength="53.2" lengthAdjust="spacingAndGlyphs">29 Oct 04:00</text>
<rect x="499" y="925" width="1" height="3" fill="#000"/>
<text x="498.5" y="937.2" font-family="Liberation Sans" font-size="10" fill="#000" font-weight="normal" textLength="51.0" lengthAdjust="spacingAndGlyphs">1 Nov 12:00</text>
<rect x="563" y="925" width="1" height="3" fill="#000"/>
<text x="562.5" y="937.2" font-family="Liberation Sans" font-size="10" fill="#000" font-weight="normal" textLength="51.0" lengthAdjust="spacingAndGlyphs">2 Nov 20:00</text>
<rect x="627" y="925" width="1" height="3" fill="#000"/>
<text x="626.5" y="937.2" font-family="Liberation Sans" font-size="10" fill="#000" font-weight="normal" textLength="51.0" lengthAdjust="spacingAndGlyphs">4 Nov 04:00</text>
<rect x="691" y="925" width="1" height="3" fill="#000"/>
<text x="690.5" y="937.2" font-family="Liberation Sans" font-size="10" fill="#000" font-weight="normal" textLength="51.0" lengthAdjust="spacingAndGlyphs">5 Nov 12:00</text>
<rect x="755" y="925" width="1" height="3" fill="#000"/>
<text x="754.5" y="937.2" font-family="Liberation Sans" font-size="10" fill="#000" font-weight="normal" textLength="51.0" lengthAdjust="spacingAndGlyphs">8 Nov 20:00</text>
<rect x="819" y="925" width="1" height="3" fill="#000"/>
<text x="818.5" y="937.2" font-family="Liberation Sans" font-size="10" fill="#000" font-weight="normal" textLength="56.3" lengthAdjust="spacingAndGlyphs">10 Nov 04:00</text>
<rect x="883" y="925" width="1" height="3" fill="#000"/>
<text x="882.5" y="937.2" font-family="Liberation Sans" font-size="10" fill="#000" font-weight="normal" textLength="55.6" lengthAdjust="spacingAndGlyphs">11 Nov 12:00</text>
<rect x="947" y="925" width="1" height="3" fill="#000"/>
<text x="946.5" y="937.2" font-family="Liberation Sans" font-size="10" fill="#000" font-weight="normal" textLength="56.3" lengthAdjust="spacingAndGlyphs">14 Nov 23:00</text>
<rect x="1011" y="925" width="1" height="3" fill="#000"/>
<text x="1010.5" y="937.2" font-family="Liberation Sans" font-size="10" fill="#000" font-weight="normal" textLength="56.3" lengthAdjust="spacingAndGlyphs">16 Nov 04:00</text>
<rect x="1075" y="925" width="1" height="3" fill="#000"/>
<text x="1074.5" y="937.2" font-family="Liberation Sans" font-size="10" fill="#000" font-weight="normal" textLength="56.3" lengthAdjust="spacingAndGlyphs">17 Nov 12:00</text>
<rect x="1139" y="925" width="1" height="3" fill="#000"/>
<text x="1138.5" y="937.2" font-family="Liberation Sans" font-size="10" fill="#000" font-weight="normal" textLength="56.3" lengthAdjust="spacingAndGlyphs">18 Nov 20:00</text>
<rect x="1203" y="925" width="1" height="3" fill="#000"/>
<text x="1202.5" y="937.2" font-family="Liberation Sans" font-size="10" fill="#000" font-weight="normal" textLength="56.3" lengthAdjust="spacingAndGlyphs">22 Nov 04:00</text>
<rect x="1267" y="925" width="1" height="3" fill="#000"/>
<text x="1266.5" y="937.2" font-family="Liberation Sans" font-size="10" fill="#000" font-weight="normal" textLength="56.3" lengthAdjust="spacingAndGlyphs">23 Nov 12:00</text>
<rect x="1331" y="925" width="1" height="3" fill="#000"/>
<text x="1330.5" y="937.2" font-family="Liberation Sans" font-size="10" fill="#000" font-weight="normal" textLength="56.3" lengthAdjust="spacingAndGlyphs">24 Nov 20:00</text>
<polygon points="1390,24 1399,24 1394.5,28.5" fill="#a0a0a0" shape-rendering="auto"/>
<rect x="1333" y="94" width="86" height="7" fill="#00ff00"/>
<line x1="1163" y1="272" x2="1315.9" y2="80.2" stroke="#ff0000" stroke-width="3.5" shape-rendering="auto"/>
<polygon points="1324,70 1320.2,83.6 1311.6,76.7" fill="#ff0000" shape-rendering="auto"/>
<line x1="1324" y1="70" x2="1341.8" y2="121.7" stroke="#ff0000" stroke-width="3.5" shape-rendering="auto"/>
<polygon points="1346,134 1336.6,123.5 1347.0,119.9" fill="#ff0000" shape-rendering="auto"/>
<line x1="1346" y1="134" x2="1387.2" y2="79.4" stroke="#ff0000" stroke-width="3.5" shape-rendering="auto"/>
<polygon points="1395,69 1391.6,82.7 1382.8,76.1" fill="#ff0000" shape-rendering="auto"/>
<line x1="1254" y1="628.5" x2="1368.0" y2="628.5" stroke="#ff0000" stroke-width="3" shape-rendering="auto"/>
<polygon points="1380,628.5 1368.0,633.5 1368.0,623.5" fill="#ff0000" shape-rendering="auto"/>
<line x1="1288" y1="820.5" x2="1368.0" y2="818.3" stroke="#ff0000" stroke-width="3" shape-rendering="auto"/>
<polygon points="1380,818 1368.1,823.3 1367.9,813.3" fill="#ff0000" shape-rendering="auto"/>
<rect x="1244.5" y="41.5" width="61" height="18" fill="#fff" stroke="#ff0000" stroke-width="1"/>
<text x="1246" y="56.7" font-family="Liberation Sans" font-size="16.5" fill="#ff0000" font-weight="normal" textLength="58" lengthAdjust="spacingAndGlyphs">0.93725</text>
<rect x="1306" y="50" width="10" height="1" fill="#ff0000"/>
<rect x="1174.5" y="87.5" width="73" height="24" fill="#fff" stroke="#ff0000" stroke-width="1"/>
<text x="1176" y="107.4" font-family="Liberation Sans" font-size="22.3" fill="#ff0000" font-weight="normal" textLength="70.3" lengthAdjust="spacingAndGlyphs">0.93452</text>
<rect x="1164" y="99" width="8" height="1" fill="#ff0000"/>
<rect x="1171.5" y="97.5" width="2" height="3" fill="#fff" stroke="#ff0000"/>
<rect x="1092.5" y="262.5" width="61" height="18" fill="#fff" stroke="#ff0000" stroke-width="1"/>
<text x="1094" y="277.7" font-family="Liberation Sans" font-size="16.5" fill="#ff0000" font-weight="normal" textLength="58" lengthAdjust="spacingAndGlyphs">0.92491</text>
<rect x="1154" y="272" width="10" height="1" fill="#ff0000"/>
<text x="2.6" y="34.6" font-family="Liberation Sans" font-size="10" fill="#000" textLength="57.2" lengthAdjust="spacingAndGlyphs">USDCHF-,H4</text>
<text x="66.9" y="34.6" font-family="Liberation Sans" font-size="10" fill="#000" textLength="31.6" lengthAdjust="spacingAndGlyphs">0.93568</text>
<text x="102.7" y="34.6" font-family="Liberation Sans" font-size="10" fill="#000" textLength="31.8" lengthAdjust="spacingAndGlyphs">0.93588</text>
<text x="138.4" y="34.6" font-family="Liberation Sans" font-size="10" fill="#000" textLength="31.8" lengthAdjust="spacingAndGlyphs">0.93548</text>
<text x="174.1" y="34.6" font-family="Liberation Sans" font-size="10" fill="#000" textLength="32.5" lengthAdjust="spacingAndGlyphs">0.93553</text>
<polygon points="8.5,38 10,39.5 8.5,41 7,39.5" fill="none" stroke="#000" stroke-width="0.9" shape-rendering="auto"/>
<defs>
<linearGradient id="gh" x1="0" y1="0" x2="0" y2="1"><stop offset="0" stop-color="#f6555a"/><stop offset="1" stop-color="#d8262c"/></linearGradient>
<linearGradient id="gp" x1="0" y1="0" x2="0" y2="1"><stop offset="0" stop-color="#d92a2e"/><stop offset="1" stop-color="#b20406"/></linearGradient>
<linearGradient id="gb" x1="0" y1="0" x2="0" y2="1"><stop offset="0" stop-color="#f2f2f2"/><stop offset="0.5" stop-color="#e4e4e4"/><stop offset="0.55" stop-color="#d6d6d6"/><stop offset="1" stop-color="#d0d0d0"/></linearGradient>
</defs>
<rect x="0" y="42" width="211" height="59" fill="#fff"/>
<rect x="0" y="43" width="42" height="24" fill="#c00000"/><rect x="0" y="44" width="41" height="22" fill="url(#gh)"/>
<rect x="0" y="65" width="38" height="1" fill="#900000"/><rect x="0" y="66" width="38" height="1" fill="#f07070"/>
<rect x="157" y="43" width="52" height="25" fill="#c00000"/><rect x="158" y="44" width="50" height="23" fill="url(#gh)"/>
<rect x="161" y="66" width="44" height="1" fill="#900000"/><rect x="161" y="67" width="44" height="1" fill="#f07070"/>
<rect x="0" y="67" width="99" height="33" fill="#b80000"/><rect x="0" y="68" width="98" height="31" fill="url(#gp)"/>
<rect x="101" y="67" width="108" height="33" fill="#b80000"/><rect x="102" y="68" width="106" height="31" fill="url(#gp)"/>
<rect x="44" y="43" width="111" height="22" fill="#a8a8b0"/><rect x="45" y="44" width="109" height="20" fill="#fff"/>
<rect x="45" y="44" width="20" height="20" fill="url(#gb)"/><rect x="65" y="44" width="1" height="20" fill="#a8a8b0"/>
<rect x="134" y="44" width="20" height="20" fill="url(#gb)"/><rect x="133" y="44" width="1" height="20" fill="#a8a8b0"/>
<polygon points="52,52 58,52 55,55" fill="#5060c0" shape-rendering="auto"/><polygon points="141,55 147,55 144,52" fill="#5060c0" shape-rendering="auto"/>
<text x="2" y="59" font-family="Liberation Sans" font-size="12.5" fill="#fff" textLength="26" lengthAdjust="spacingAndGlyphs">SELL</text>
<text x="170.5" y="59" font-family="Liberation Sans" font-size="12.5" fill="#fff" textLength="23.5" lengthAdjust="spacingAndGlyphs">BUY</text>
<text x="106.5" y="58" font-family="Liberation Sans" font-size="12.5" fill="#000" textLength="23.5" lengthAdjust="spacingAndGlyphs">1.00</text>
<text x="9.5" y="95" font-family="Liberation Sans" font-size="12" font-weight="bold" fill="#fff" textLength="24.5" lengthAdjust="spacingAndGlyphs">0.93</text>
<text x="37.5" y="95" font-family="Liberation Sans" font-size="33.5" fill="#fff" textLength="34" lengthAdjust="spacingAndGlyphs">55</text>
<text x="77" y="79" font-family="Liberation Sans" font-size="12" font-weight="bold" fill="#fff">3</text>
<text x="119.5" y="95" font-family="Liberation Sans" font-size="12" font-weight="bold" fill="#fff" textLength="24.5" lengthAdjust="spacingAndGlyphs">0.93</text>
<text x="148" y="95" font-family="Liberation Sans" font-size="33.5" fill="#fff" textLength="35" lengthAdjust="spacingAndGlyphs">61</text>
<text x="187.5" y="79" font-family="Liberation Sans" font-size="12" font-weight="bold" fill="#fff">4</text>
</svg>
</body></html>
